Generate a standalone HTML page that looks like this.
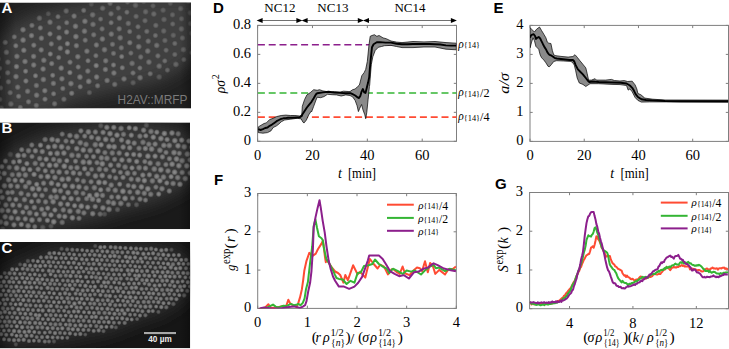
<!DOCTYPE html><html><head><meta charset="utf-8"><style>html,body{margin:0;padding:0;background:#fff;width:729px;height:349px;overflow:hidden}svg{display:block}</style></head><body>
<svg width="729" height="349" viewBox="0 0 729 349">
<defs><filter id="blurBig" x="-20%" y="-20%" width="140%" height="140%"><feGaussianBlur stdDeviation="8"/></filter><radialGradient id="dotG"><stop offset="0" stop-color="#fff" stop-opacity="0.8"/><stop offset="0.5" stop-color="#fff" stop-opacity="0.62"/><stop offset="0.8" stop-color="#fff" stop-opacity="0.25"/><stop offset="1" stop-color="#fff" stop-opacity="0"/></radialGradient><filter id="blurDot" x="-5%" y="-5%" width="110%" height="110%"><feGaussianBlur stdDeviation="0.75"/></filter><linearGradient id="vigL" x1="0" x2="1" y1="0" y2="0"><stop offset="0" stop-color="#000" stop-opacity="0.35"/><stop offset="0.08" stop-color="#000" stop-opacity="0"/><stop offset="0.94" stop-color="#000" stop-opacity="0"/><stop offset="1" stop-color="#000" stop-opacity="0.3"/></linearGradient></defs>
<clipPath id="clipA"><rect x="0" y="2.5" width="191" height="106.0"/></clipPath>
<g clip-path="url(#clipA)">
<rect x="0" y="2.5" width="191" height="106.0" fill="#222222"/>
<path d="M-10.0 41.0 L-6.0 38.6 L-2.0 36.2 L2.0 33.6 L6.0 30.7 L10.0 27.9 L14.0 25.0 L18.0 22.5 L22.0 19.9 L26.0 17.6 L30.0 16.1 L34.0 14.5 L38.0 13.0 L42.0 11.8 L46.0 10.6 L50.0 9.5 L54.0 8.3 L58.0 7.3 L62.0 6.4 L66.0 5.4 L70.0 4.5 L74.0 3.7 L78.0 3.0 L82.0 2.3 L86.0 1.6 L90.0 0.9 L94.0 0.2 L98.0 -1.0 L102.0 -2.3 L106.0 -3.7 L110.0 -5.0 L114.0 -5.0 L118.0 -5.0 L122.0 -5.0 L126.0 -5.0 L130.0 -5.0 L134.0 -5.0 L138.0 -5.0 L142.0 -5.0 L146.0 -5.0 L150.0 -5.0 L154.0 -5.0 L158.0 -5.0 L162.0 -5.0 L166.0 -5.0 L170.0 -5.0 L174.0 -5.0 L178.0 -5.0 L182.0 -5.0 L186.0 -5.0 L190.0 -5.0 L194.0 -5.0 L198.0 -5.0 L201.0 53.0 L197.0 55.6 L193.0 59.1 L189.0 62.7 L185.0 66.2 L181.0 69.2 L177.0 71.7 L173.0 74.2 L169.0 76.5 L165.0 78.5 L161.0 80.5 L157.0 82.2 L153.0 83.2 L149.0 84.2 L145.0 85.2 L141.0 86.2 L137.0 86.9 L133.0 87.7 L129.0 88.4 L125.0 89.2 L121.0 89.9 L117.0 90.7 L113.0 91.4 L109.0 92.3 L105.0 93.3 L101.0 94.4 L97.0 95.5 L93.0 96.5 L89.0 97.5 L85.0 98.5 L81.0 99.5 L77.0 100.8 L73.0 102.2 L69.0 103.8 L65.0 105.2 L61.0 107.4 L57.0 110.2 L53.0 112.9 L49.0 115.0 L45.0 115.0 L41.0 115.0 L37.0 115.0 L33.0 115.0 L29.0 115.0 L25.0 115.0 L21.0 115.0 L17.0 115.0 L13.0 115.0 L9.0 115.0 L5.0 115.0 L1.0 115.0 L-3.0 115.0 L-7.0 115.0Z" fill="#404040" filter="url(#blurBig)"/>
<g fill="url(#dotG)"><circle cx="188.5" cy="1.2" r="3.30" opacity="0.22"/><circle cx="161.4" cy="-1.1" r="3.23" opacity="0.12"/><circle cx="170.3" cy="3.3" r="3.04" opacity="0.20"/><circle cx="180.7" cy="8.6" r="3.24" opacity="0.23"/><circle cx="190.5" cy="12.8" r="3.39" opacity="0.21"/><circle cx="143.7" cy="1.5" r="3.07" opacity="0.22"/><circle cx="153.0" cy="5.9" r="3.03" opacity="0.23"/><circle cx="163.1" cy="10.2" r="3.18" opacity="0.24"/><circle cx="172.5" cy="14.8" r="3.13" opacity="0.26"/><circle cx="181.6" cy="18.8" r="3.10" opacity="0.24"/><circle cx="190.7" cy="23.6" r="3.20" opacity="0.21"/><circle cx="127.5" cy="2.0" r="2.98" opacity="0.29"/><circle cx="135.5" cy="5.3" r="3.35" opacity="0.26"/><circle cx="145.6" cy="11.8" r="3.28" opacity="0.28"/><circle cx="153.8" cy="14.0" r="3.27" opacity="0.30"/><circle cx="164.0" cy="19.5" r="3.29" opacity="0.26"/><circle cx="172.7" cy="24.0" r="3.03" opacity="0.29"/><circle cx="181.5" cy="28.9" r="3.37" opacity="0.27"/><circle cx="191.8" cy="33.3" r="3.21" opacity="0.20"/><circle cx="110.1" cy="3.3" r="3.13" opacity="0.34"/><circle cx="118.2" cy="8.1" r="2.99" opacity="0.31"/><circle cx="126.9" cy="12.2" r="2.98" opacity="0.35"/><circle cx="136.1" cy="16.4" r="3.12" opacity="0.30"/><circle cx="145.0" cy="20.7" r="3.12" opacity="0.30"/><circle cx="155.8" cy="25.4" r="3.16" opacity="0.31"/><circle cx="163.7" cy="31.0" r="3.26" opacity="0.28"/><circle cx="173.3" cy="35.3" r="3.20" opacity="0.26"/><circle cx="182.5" cy="38.0" r="3.16" opacity="0.28"/><circle cx="193.1" cy="43.0" r="3.08" opacity="0.25"/><circle cx="91.3" cy="4.2" r="3.07" opacity="0.19"/><circle cx="102.6" cy="8.3" r="3.32" opacity="0.31"/><circle cx="111.0" cy="13.8" r="3.21" opacity="0.35"/><circle cx="119.4" cy="18.1" r="3.28" opacity="0.39"/><circle cx="128.3" cy="23.4" r="3.27" opacity="0.34"/><circle cx="138.0" cy="26.8" r="3.05" opacity="0.35"/><circle cx="146.8" cy="31.4" r="3.09" opacity="0.34"/><circle cx="155.4" cy="35.5" r="3.00" opacity="0.34"/><circle cx="164.9" cy="40.5" r="3.15" opacity="0.29"/><circle cx="174.8" cy="43.5" r="3.02" opacity="0.32"/><circle cx="183.5" cy="49.6" r="3.34" opacity="0.29"/><circle cx="192.0" cy="52.7" r="3.14" opacity="0.27"/><circle cx="83.7" cy="10.4" r="3.04" opacity="0.38"/><circle cx="92.6" cy="14.8" r="3.38" opacity="0.35"/><circle cx="100.6" cy="19.1" r="2.97" opacity="0.35"/><circle cx="111.1" cy="22.7" r="3.00" opacity="0.40"/><circle cx="119.2" cy="28.8" r="3.23" opacity="0.38"/><circle cx="129.7" cy="31.6" r="3.02" opacity="0.38"/><circle cx="138.7" cy="37.0" r="3.03" opacity="0.34"/><circle cx="148.2" cy="41.2" r="3.23" opacity="0.36"/><circle cx="156.7" cy="45.4" r="3.32" opacity="0.36"/><circle cx="166.1" cy="50.2" r="3.03" opacity="0.31"/><circle cx="174.8" cy="54.5" r="3.03" opacity="0.30"/><circle cx="183.9" cy="59.6" r="2.98" opacity="0.29"/><circle cx="66.2" cy="11.0" r="3.27" opacity="0.32"/><circle cx="74.1" cy="16.1" r="3.18" opacity="0.41"/><circle cx="84.9" cy="21.3" r="3.34" opacity="0.42"/><circle cx="93.0" cy="24.4" r="3.32" opacity="0.37"/><circle cx="102.1" cy="28.9" r="3.12" opacity="0.36"/><circle cx="111.3" cy="34.1" r="3.31" opacity="0.40"/><circle cx="120.2" cy="37.8" r="3.40" opacity="0.38"/><circle cx="129.8" cy="42.7" r="3.16" opacity="0.42"/><circle cx="138.7" cy="46.7" r="3.40" opacity="0.40"/><circle cx="147.7" cy="51.1" r="3.36" opacity="0.39"/><circle cx="157.9" cy="55.9" r="3.09" opacity="0.35"/><circle cx="164.8" cy="60.9" r="2.99" opacity="0.34"/><circle cx="175.9" cy="64.4" r="3.39" opacity="0.30"/><circle cx="48.3" cy="13.8" r="3.03" opacity="0.22"/><circle cx="58.0" cy="16.7" r="2.99" opacity="0.38"/><circle cx="66.7" cy="22.7" r="3.00" opacity="0.39"/><circle cx="75.5" cy="26.3" r="3.33" opacity="0.43"/><circle cx="84.5" cy="31.2" r="3.35" opacity="0.41"/><circle cx="93.7" cy="34.8" r="3.16" opacity="0.38"/><circle cx="102.4" cy="39.0" r="3.32" opacity="0.42"/><circle cx="112.5" cy="44.3" r="3.15" opacity="0.38"/><circle cx="121.3" cy="47.8" r="3.17" opacity="0.37"/><circle cx="130.9" cy="53.1" r="3.02" opacity="0.36"/><circle cx="140.7" cy="57.0" r="3.15" opacity="0.35"/><circle cx="148.9" cy="62.1" r="3.33" opacity="0.37"/><circle cx="159.2" cy="66.2" r="3.35" opacity="0.34"/><circle cx="167.4" cy="70.1" r="3.04" opacity="0.30"/><circle cx="39.4" cy="18.2" r="3.34" opacity="0.31"/><circle cx="50.0" cy="22.2" r="3.25" opacity="0.40"/><circle cx="58.9" cy="27.7" r="2.99" opacity="0.38"/><circle cx="66.6" cy="32.1" r="3.16" opacity="0.45"/><circle cx="75.9" cy="36.6" r="3.39" opacity="0.44"/><circle cx="85.2" cy="40.2" r="3.08" opacity="0.39"/><circle cx="96.4" cy="45.0" r="3.21" opacity="0.42"/><circle cx="104.5" cy="49.7" r="3.38" opacity="0.40"/><circle cx="113.5" cy="53.4" r="3.06" opacity="0.38"/><circle cx="121.7" cy="56.6" r="2.98" opacity="0.44"/><circle cx="132.1" cy="63.4" r="3.35" opacity="0.37"/><circle cx="139.9" cy="68.0" r="2.97" opacity="0.39"/><circle cx="150.2" cy="73.8" r="3.07" opacity="0.36"/><circle cx="159.2" cy="77.0" r="3.37" opacity="0.24"/><circle cx="31.9" cy="25.4" r="3.09" opacity="0.39"/><circle cx="40.3" cy="27.9" r="3.09" opacity="0.42"/><circle cx="50.0" cy="33.9" r="3.08" opacity="0.45"/><circle cx="59.1" cy="37.8" r="3.27" opacity="0.46"/><circle cx="67.4" cy="43.7" r="3.12" opacity="0.48"/><circle cx="76.4" cy="45.7" r="3.22" opacity="0.42"/><circle cx="86.9" cy="51.2" r="3.25" opacity="0.42"/><circle cx="95.9" cy="55.7" r="3.01" opacity="0.40"/><circle cx="105.7" cy="60.8" r="3.24" opacity="0.41"/><circle cx="113.5" cy="65.0" r="3.01" opacity="0.44"/><circle cx="122.3" cy="67.8" r="3.03" opacity="0.43"/><circle cx="133.0" cy="73.0" r="3.09" opacity="0.38"/><circle cx="140.1" cy="77.7" r="3.38" opacity="0.39"/><circle cx="23.0" cy="29.7" r="3.34" opacity="0.42"/><circle cx="31.5" cy="35.6" r="3.23" opacity="0.44"/><circle cx="41.4" cy="38.2" r="3.24" opacity="0.43"/><circle cx="51.3" cy="43.9" r="3.11" opacity="0.42"/><circle cx="60.3" cy="48.2" r="3.22" opacity="0.42"/><circle cx="67.4" cy="51.9" r="3.25" opacity="0.48"/><circle cx="77.8" cy="56.7" r="3.29" opacity="0.42"/><circle cx="88.0" cy="60.8" r="2.98" opacity="0.43"/><circle cx="96.2" cy="65.6" r="3.16" opacity="0.47"/><circle cx="105.4" cy="69.5" r="3.21" opacity="0.43"/><circle cx="113.9" cy="73.0" r="3.23" opacity="0.42"/><circle cx="124.0" cy="78.9" r="3.27" opacity="0.40"/><circle cx="133.1" cy="82.8" r="3.21" opacity="0.26"/><circle cx="14.3" cy="36.9" r="3.02" opacity="0.38"/><circle cx="23.1" cy="40.1" r="3.36" opacity="0.44"/><circle cx="33.8" cy="45.2" r="3.10" opacity="0.43"/><circle cx="41.2" cy="49.9" r="3.20" opacity="0.43"/><circle cx="50.3" cy="54.0" r="3.04" opacity="0.47"/><circle cx="58.7" cy="57.5" r="3.00" opacity="0.42"/><circle cx="70.0" cy="62.2" r="3.09" opacity="0.42"/><circle cx="78.2" cy="67.0" r="3.05" opacity="0.41"/><circle cx="87.8" cy="71.1" r="3.20" opacity="0.41"/><circle cx="96.6" cy="77.0" r="3.25" opacity="0.44"/><circle cx="107.1" cy="80.5" r="3.24" opacity="0.41"/><circle cx="114.7" cy="84.4" r="3.24" opacity="0.37"/><circle cx="5.2" cy="42.4" r="3.17" opacity="0.39"/><circle cx="15.8" cy="45.8" r="3.06" opacity="0.42"/><circle cx="23.8" cy="50.3" r="3.23" opacity="0.45"/><circle cx="33.6" cy="56.4" r="3.24" opacity="0.43"/><circle cx="43.8" cy="60.3" r="3.31" opacity="0.42"/><circle cx="51.7" cy="63.6" r="3.13" opacity="0.44"/><circle cx="61.2" cy="68.1" r="3.29" opacity="0.46"/><circle cx="69.9" cy="72.6" r="3.05" opacity="0.48"/><circle cx="79.9" cy="77.1" r="3.40" opacity="0.44"/><circle cx="88.7" cy="81.4" r="3.41" opacity="0.44"/><circle cx="97.6" cy="85.8" r="3.14" opacity="0.38"/><circle cx="-2.2" cy="46.8" r="2.97" opacity="0.38"/><circle cx="6.4" cy="52.3" r="3.29" opacity="0.40"/><circle cx="16.9" cy="56.4" r="3.31" opacity="0.40"/><circle cx="25.0" cy="61.5" r="3.30" opacity="0.43"/><circle cx="33.7" cy="65.0" r="3.25" opacity="0.43"/><circle cx="43.1" cy="69.0" r="3.26" opacity="0.44"/><circle cx="52.7" cy="75.3" r="3.00" opacity="0.45"/><circle cx="61.9" cy="78.8" r="3.28" opacity="0.43"/><circle cx="70.9" cy="83.6" r="3.40" opacity="0.43"/><circle cx="80.2" cy="86.8" r="3.04" opacity="0.42"/><circle cx="89.4" cy="92.6" r="3.12" opacity="0.27"/><circle cx="-2.0" cy="59.0" r="3.36" opacity="0.35"/><circle cx="7.8" cy="62.2" r="3.28" opacity="0.37"/><circle cx="16.5" cy="66.6" r="3.20" opacity="0.45"/><circle cx="25.6" cy="71.2" r="3.00" opacity="0.45"/><circle cx="35.5" cy="75.8" r="2.97" opacity="0.46"/><circle cx="43.4" cy="79.5" r="3.37" opacity="0.42"/><circle cx="53.4" cy="83.4" r="3.25" opacity="0.42"/><circle cx="62.8" cy="88.5" r="3.04" opacity="0.41"/><circle cx="71.7" cy="93.3" r="3.16" opacity="0.44"/><circle cx="-0.3" cy="68.3" r="3.02" opacity="0.38"/><circle cx="7.7" cy="72.8" r="3.17" opacity="0.39"/><circle cx="16.0" cy="76.6" r="3.32" opacity="0.41"/><circle cx="25.9" cy="81.0" r="3.11" opacity="0.44"/><circle cx="36.4" cy="85.5" r="3.23" opacity="0.39"/><circle cx="44.8" cy="90.7" r="3.21" opacity="0.44"/><circle cx="53.6" cy="93.8" r="2.99" opacity="0.42"/><circle cx="63.9" cy="99.2" r="3.18" opacity="0.35"/><circle cx="-1.6" cy="77.3" r="3.04" opacity="0.35"/><circle cx="8.4" cy="81.8" r="3.16" opacity="0.37"/><circle cx="17.7" cy="87.2" r="3.23" opacity="0.37"/><circle cx="27.6" cy="91.3" r="3.24" opacity="0.39"/><circle cx="36.6" cy="95.2" r="3.32" opacity="0.41"/><circle cx="45.0" cy="99.2" r="3.07" opacity="0.42"/><circle cx="54.6" cy="103.8" r="3.21" opacity="0.37"/><circle cx="0.6" cy="87.9" r="3.08" opacity="0.37"/><circle cx="10.1" cy="92.7" r="3.16" opacity="0.38"/><circle cx="18.6" cy="96.3" r="3.08" opacity="0.39"/><circle cx="28.5" cy="101.8" r="3.08" opacity="0.39"/><circle cx="36.3" cy="105.4" r="3.16" opacity="0.35"/><circle cx="45.7" cy="110.8" r="3.22" opacity="0.23"/><circle cx="-0.3" cy="99.4" r="3.21" opacity="0.33"/><circle cx="10.8" cy="104.0" r="3.39" opacity="0.35"/><circle cx="20.3" cy="107.4" r="3.01" opacity="0.37"/><circle cx="29.3" cy="110.5" r="2.97" opacity="0.21"/><circle cx="1.2" cy="108.1" r="3.33" opacity="0.29"/></g>
<rect x="0" y="2.5" width="191" height="106.0" fill="url(#vigL)"/>
<text x="117.6" y="103.7" textLength="69.8" lengthAdjust="spacingAndGlyphs" style="font-family:'Liberation Sans',sans-serif;font-size:12px" fill="#7a7a7a">H2AV::MRFP</text>
</g>
<clipPath id="clipB"><rect x="0" y="122.5" width="190" height="106.69999999999999"/></clipPath>
<g clip-path="url(#clipB)">
<rect x="0" y="122.5" width="190" height="106.69999999999999" fill="#1a1a1a"/>
<path d="M-10.0 162.0 L-6.0 160.0 L-2.0 158.0 L2.0 156.1 L6.0 154.2 L10.0 151.6 L14.0 148.9 L18.0 146.5 L22.0 144.5 L26.0 142.5 L30.0 140.5 L34.0 138.7 L38.0 137.1 L42.0 135.4 L46.0 133.8 L50.0 132.4 L54.0 131.2 L58.0 130.0 L62.0 128.8 L66.0 127.8 L70.0 127.0 L74.0 126.2 L78.0 125.4 L82.0 124.7 L86.0 124.2 L90.0 123.6 L94.0 123.1 L98.0 122.6 L102.0 122.3 L106.0 122.0 L110.0 121.7 L114.0 121.4 L118.0 121.3 L122.0 121.2 L126.0 121.1 L130.0 121.1 L134.0 121.4 L138.0 121.6 L142.0 121.9 L146.0 122.2 L150.0 122.8 L154.0 123.2 L158.0 123.8 L162.0 124.5 L166.0 125.5 L170.0 126.5 L174.0 127.5 L178.0 128.8 L182.0 130.4 L186.0 132.0 L190.0 134.0 L194.0 136.0 L198.0 138.0 L200.0 175.0 L196.0 178.4 L192.0 181.9 L188.0 185.3 L184.0 188.2 L180.0 190.6 L176.0 193.0 L172.0 195.0 L168.0 197.0 L164.0 199.0 L160.0 201.0 L156.0 202.2 L152.0 203.5 L148.0 204.8 L144.0 206.0 L140.0 207.0 L136.0 208.0 L132.0 209.0 L128.0 210.0 L124.0 211.2 L120.0 212.5 L116.0 213.8 L112.0 215.0 L108.0 216.2 L104.0 217.5 L100.0 218.8 L96.0 220.0 L92.0 220.9 L88.0 221.8 L84.0 222.6 L80.0 223.5 L76.0 224.4 L72.0 225.2 L68.0 226.1 L64.0 227.0 L60.0 227.8 L56.0 228.5 L52.0 229.2 L48.0 230.0 L44.0 230.5 L40.0 231.0 L36.0 231.5 L32.0 232.0 L28.0 232.2 L24.0 232.5 L20.0 232.8 L16.0 233.0 L12.0 232.8 L8.0 232.5 L4.0 232.2 L0.0 232.0 L-4.0 232.0 L-8.0 232.0Z" fill="#383838" filter="url(#blurBig)"/>
<g fill="url(#dotG)"><circle cx="146.4" cy="125.3" r="3.21" opacity="0.26"/><circle cx="100.8" cy="125.7" r="3.20" opacity="0.27"/><circle cx="106.8" cy="127.4" r="3.28" opacity="0.51"/><circle cx="113.8" cy="127.4" r="3.19" opacity="0.52"/><circle cx="121.1" cy="128.4" r="3.36" opacity="0.46"/><circle cx="129.2" cy="127.8" r="3.05" opacity="0.54"/><circle cx="135.4" cy="128.6" r="3.23" opacity="0.52"/><circle cx="143.6" cy="130.2" r="3.23" opacity="0.51"/><circle cx="151.0" cy="131.5" r="3.38" opacity="0.46"/><circle cx="156.8" cy="132.2" r="3.06" opacity="0.53"/><circle cx="164.4" cy="133.5" r="3.37" opacity="0.55"/><circle cx="172.0" cy="133.0" r="3.33" opacity="0.53"/><circle cx="178.2" cy="133.8" r="3.25" opacity="0.41"/><circle cx="80.9" cy="130.9" r="3.13" opacity="0.50"/><circle cx="88.4" cy="131.9" r="3.42" opacity="0.50"/><circle cx="95.4" cy="132.0" r="3.18" opacity="0.49"/><circle cx="103.1" cy="132.4" r="3.19" opacity="0.51"/><circle cx="110.0" cy="133.6" r="3.46" opacity="0.53"/><circle cx="117.0" cy="135.1" r="3.32" opacity="0.54"/><circle cx="123.5" cy="134.3" r="3.23" opacity="0.45"/><circle cx="131.3" cy="135.2" r="3.15" opacity="0.52"/><circle cx="139.9" cy="136.2" r="3.22" opacity="0.46"/><circle cx="145.8" cy="135.8" r="3.03" opacity="0.52"/><circle cx="153.3" cy="137.2" r="3.26" opacity="0.54"/><circle cx="160.9" cy="138.5" r="3.42" opacity="0.53"/><circle cx="167.1" cy="139.5" r="3.08" opacity="0.51"/><circle cx="174.8" cy="140.6" r="3.33" opacity="0.52"/><circle cx="181.7" cy="140.1" r="3.22" opacity="0.52"/><circle cx="188.9" cy="141.0" r="3.12" opacity="0.54"/><circle cx="62.2" cy="134.1" r="3.13" opacity="0.45"/><circle cx="69.9" cy="135.5" r="3.32" opacity="0.48"/><circle cx="76.6" cy="136.4" r="3.45" opacity="0.47"/><circle cx="84.7" cy="136.1" r="3.05" opacity="0.49"/><circle cx="91.5" cy="137.2" r="3.24" opacity="0.49"/><circle cx="98.2" cy="138.6" r="3.46" opacity="0.51"/><circle cx="105.7" cy="139.4" r="3.39" opacity="0.52"/><circle cx="112.5" cy="139.9" r="3.16" opacity="0.50"/><circle cx="121.5" cy="140.0" r="3.21" opacity="0.50"/><circle cx="128.1" cy="142.0" r="3.30" opacity="0.53"/><circle cx="134.2" cy="143.1" r="3.22" opacity="0.48"/><circle cx="143.0" cy="142.3" r="3.34" opacity="0.45"/><circle cx="148.8" cy="144.2" r="3.28" opacity="0.46"/><circle cx="155.1" cy="144.1" r="3.20" opacity="0.50"/><circle cx="163.8" cy="145.4" r="3.34" opacity="0.50"/><circle cx="169.3" cy="145.5" r="3.39" opacity="0.47"/><circle cx="178.0" cy="145.8" r="3.35" opacity="0.51"/><circle cx="184.3" cy="146.8" r="3.43" opacity="0.46"/><circle cx="191.8" cy="147.3" r="3.12" opacity="0.47"/><circle cx="45.1" cy="139.5" r="3.28" opacity="0.42"/><circle cx="52.1" cy="139.5" r="3.41" opacity="0.52"/><circle cx="57.6" cy="140.5" r="3.30" opacity="0.51"/><circle cx="66.0" cy="141.0" r="3.12" opacity="0.45"/><circle cx="72.3" cy="141.7" r="3.04" opacity="0.52"/><circle cx="80.3" cy="142.7" r="3.41" opacity="0.47"/><circle cx="86.0" cy="144.4" r="3.39" opacity="0.45"/><circle cx="95.3" cy="144.7" r="3.45" opacity="0.47"/><circle cx="101.1" cy="144.8" r="3.19" opacity="0.55"/><circle cx="109.0" cy="146.5" r="3.41" opacity="0.53"/><circle cx="114.2" cy="146.8" r="3.41" opacity="0.52"/><circle cx="123.1" cy="147.1" r="3.26" opacity="0.50"/><circle cx="129.7" cy="147.8" r="3.26" opacity="0.51"/><circle cx="139.0" cy="148.3" r="3.21" opacity="0.45"/><circle cx="145.4" cy="148.5" r="3.23" opacity="0.53"/><circle cx="151.6" cy="149.0" r="3.45" opacity="0.51"/><circle cx="159.9" cy="150.3" r="3.46" opacity="0.48"/><circle cx="166.0" cy="152.5" r="3.07" opacity="0.48"/><circle cx="174.0" cy="152.6" r="3.45" opacity="0.50"/><circle cx="179.4" cy="153.3" r="3.05" opacity="0.47"/><circle cx="187.4" cy="154.1" r="3.43" opacity="0.50"/><circle cx="31.8" cy="145.0" r="3.13" opacity="0.46"/><circle cx="40.5" cy="145.2" r="3.14" opacity="0.54"/><circle cx="48.3" cy="147.0" r="3.10" opacity="0.53"/><circle cx="54.7" cy="146.3" r="3.37" opacity="0.50"/><circle cx="61.6" cy="146.8" r="3.46" opacity="0.51"/><circle cx="68.1" cy="147.9" r="3.03" opacity="0.45"/><circle cx="76.7" cy="148.6" r="3.30" opacity="0.51"/><circle cx="83.3" cy="150.0" r="3.38" opacity="0.52"/><circle cx="90.2" cy="150.5" r="3.44" opacity="0.47"/><circle cx="97.9" cy="151.1" r="3.40" opacity="0.52"/><circle cx="104.9" cy="152.6" r="3.13" opacity="0.45"/><circle cx="112.3" cy="153.0" r="3.33" opacity="0.46"/><circle cx="119.2" cy="153.1" r="3.24" opacity="0.48"/><circle cx="126.9" cy="154.3" r="3.05" opacity="0.55"/><circle cx="133.7" cy="154.5" r="3.14" opacity="0.53"/><circle cx="139.7" cy="155.1" r="3.11" opacity="0.54"/><circle cx="147.9" cy="156.2" r="3.38" opacity="0.54"/><circle cx="155.1" cy="156.2" r="3.17" opacity="0.54"/><circle cx="162.4" cy="156.9" r="3.19" opacity="0.50"/><circle cx="169.4" cy="158.7" r="3.16" opacity="0.49"/><circle cx="176.5" cy="159.0" r="3.39" opacity="0.52"/><circle cx="182.1" cy="160.7" r="3.43" opacity="0.45"/><circle cx="190.1" cy="159.9" r="3.29" opacity="0.47"/><circle cx="21.7" cy="149.7" r="3.09" opacity="0.47"/><circle cx="28.5" cy="150.7" r="3.38" opacity="0.45"/><circle cx="35.4" cy="150.8" r="3.23" opacity="0.52"/><circle cx="42.3" cy="151.6" r="3.24" opacity="0.49"/><circle cx="50.4" cy="153.4" r="3.13" opacity="0.54"/><circle cx="57.2" cy="153.4" r="3.47" opacity="0.51"/><circle cx="63.9" cy="153.1" r="3.31" opacity="0.51"/><circle cx="71.9" cy="155.3" r="3.47" opacity="0.46"/><circle cx="78.4" cy="155.6" r="3.30" opacity="0.47"/><circle cx="86.5" cy="156.3" r="3.07" opacity="0.47"/><circle cx="93.5" cy="156.7" r="3.11" opacity="0.50"/><circle cx="101.4" cy="157.9" r="3.34" opacity="0.48"/><circle cx="106.9" cy="158.3" r="3.45" opacity="0.46"/><circle cx="114.6" cy="159.3" r="3.14" opacity="0.47"/><circle cx="121.9" cy="160.0" r="3.25" opacity="0.53"/><circle cx="129.2" cy="160.4" r="3.25" opacity="0.50"/><circle cx="136.7" cy="161.5" r="3.17" opacity="0.54"/><circle cx="144.8" cy="161.6" r="3.05" opacity="0.48"/><circle cx="150.1" cy="163.1" r="3.32" opacity="0.50"/><circle cx="158.1" cy="163.8" r="3.30" opacity="0.45"/><circle cx="165.9" cy="164.6" r="3.08" opacity="0.48"/><circle cx="172.1" cy="164.2" r="3.37" opacity="0.53"/><circle cx="178.9" cy="165.7" r="3.40" opacity="0.52"/><circle cx="186.8" cy="165.9" r="3.37" opacity="0.53"/><circle cx="193.8" cy="167.5" r="3.34" opacity="0.51"/><circle cx="10.3" cy="154.4" r="3.38" opacity="0.23"/><circle cx="18.1" cy="155.5" r="3.40" opacity="0.54"/><circle cx="24.0" cy="155.4" r="3.16" opacity="0.48"/><circle cx="32.0" cy="156.5" r="3.03" opacity="0.46"/><circle cx="39.7" cy="158.5" r="3.30" opacity="0.47"/><circle cx="46.2" cy="159.2" r="3.17" opacity="0.55"/><circle cx="53.6" cy="159.4" r="3.16" opacity="0.47"/><circle cx="59.4" cy="160.7" r="3.38" opacity="0.47"/><circle cx="66.8" cy="160.7" r="3.03" opacity="0.55"/><circle cx="75.5" cy="161.2" r="3.05" opacity="0.50"/><circle cx="83.3" cy="162.1" r="3.47" opacity="0.51"/><circle cx="89.4" cy="162.4" r="3.42" opacity="0.53"/><circle cx="97.0" cy="162.7" r="3.14" opacity="0.48"/><circle cx="102.3" cy="163.8" r="3.46" opacity="0.53"/><circle cx="110.6" cy="165.1" r="3.23" opacity="0.52"/><circle cx="118.6" cy="165.3" r="3.28" opacity="0.48"/><circle cx="125.1" cy="167.1" r="3.44" opacity="0.46"/><circle cx="132.0" cy="167.9" r="3.05" opacity="0.54"/><circle cx="139.1" cy="167.7" r="3.46" opacity="0.46"/><circle cx="145.5" cy="168.2" r="3.25" opacity="0.51"/><circle cx="154.3" cy="169.0" r="3.47" opacity="0.48"/><circle cx="160.8" cy="169.8" r="3.47" opacity="0.53"/><circle cx="168.0" cy="170.9" r="3.26" opacity="0.47"/><circle cx="174.6" cy="172.2" r="3.36" opacity="0.54"/><circle cx="182.2" cy="172.5" r="3.21" opacity="0.45"/><circle cx="190.2" cy="173.0" r="3.29" opacity="0.51"/><circle cx="5.4" cy="161.1" r="3.03" opacity="0.51"/><circle cx="13.5" cy="162.0" r="3.05" opacity="0.50"/><circle cx="19.5" cy="161.3" r="3.03" opacity="0.53"/><circle cx="26.9" cy="163.6" r="3.08" opacity="0.54"/><circle cx="35.2" cy="163.4" r="3.28" opacity="0.45"/><circle cx="42.2" cy="164.6" r="3.21" opacity="0.47"/><circle cx="49.6" cy="165.3" r="3.40" opacity="0.55"/><circle cx="56.0" cy="165.2" r="3.26" opacity="0.52"/><circle cx="64.3" cy="166.2" r="3.43" opacity="0.54"/><circle cx="70.8" cy="167.6" r="3.23" opacity="0.47"/><circle cx="77.0" cy="167.7" r="3.31" opacity="0.48"/><circle cx="84.6" cy="168.7" r="3.19" opacity="0.54"/><circle cx="91.6" cy="169.3" r="3.04" opacity="0.45"/><circle cx="99.4" cy="169.2" r="3.41" opacity="0.47"/><circle cx="105.9" cy="169.6" r="3.17" opacity="0.46"/><circle cx="113.8" cy="170.8" r="3.07" opacity="0.48"/><circle cx="120.4" cy="172.4" r="3.03" opacity="0.48"/><circle cx="127.5" cy="173.2" r="3.47" opacity="0.49"/><circle cx="134.5" cy="173.3" r="3.05" opacity="0.47"/><circle cx="142.8" cy="175.1" r="3.21" opacity="0.52"/><circle cx="149.4" cy="174.8" r="3.10" opacity="0.51"/><circle cx="156.7" cy="176.4" r="3.40" opacity="0.51"/><circle cx="163.5" cy="177.1" r="3.37" opacity="0.48"/><circle cx="171.1" cy="176.7" r="3.05" opacity="0.54"/><circle cx="177.7" cy="177.6" r="3.33" opacity="0.46"/><circle cx="185.3" cy="178.6" r="3.33" opacity="0.46"/><circle cx="1.8" cy="166.7" r="3.09" opacity="0.53"/><circle cx="9.2" cy="167.4" r="3.14" opacity="0.45"/><circle cx="16.7" cy="168.0" r="3.45" opacity="0.49"/><circle cx="23.4" cy="169.0" r="3.26" opacity="0.52"/><circle cx="29.9" cy="169.6" r="3.06" opacity="0.53"/><circle cx="38.1" cy="169.2" r="3.19" opacity="0.47"/><circle cx="45.3" cy="170.8" r="3.07" opacity="0.51"/><circle cx="52.5" cy="171.6" r="3.15" opacity="0.46"/><circle cx="59.1" cy="172.1" r="3.38" opacity="0.50"/><circle cx="66.7" cy="172.3" r="3.03" opacity="0.48"/><circle cx="73.4" cy="172.9" r="3.31" opacity="0.51"/><circle cx="79.8" cy="173.6" r="3.11" opacity="0.48"/><circle cx="88.0" cy="173.8" r="3.32" opacity="0.48"/><circle cx="95.5" cy="176.0" r="3.44" opacity="0.50"/><circle cx="102.2" cy="175.5" r="3.41" opacity="0.51"/><circle cx="109.7" cy="176.7" r="3.08" opacity="0.47"/><circle cx="115.7" cy="177.9" r="3.12" opacity="0.47"/><circle cx="123.0" cy="177.4" r="3.12" opacity="0.51"/><circle cx="131.2" cy="179.1" r="3.20" opacity="0.48"/><circle cx="138.0" cy="179.6" r="3.45" opacity="0.49"/><circle cx="144.4" cy="180.6" r="3.28" opacity="0.54"/><circle cx="152.4" cy="180.9" r="3.38" opacity="0.46"/><circle cx="159.9" cy="180.8" r="3.24" opacity="0.55"/><circle cx="166.8" cy="183.0" r="3.05" opacity="0.51"/><circle cx="173.1" cy="183.5" r="3.36" opacity="0.47"/><circle cx="180.0" cy="184.3" r="3.34" opacity="0.50"/><circle cx="-1.4" cy="172.4" r="3.05" opacity="0.52"/><circle cx="4.2" cy="173.4" r="3.25" opacity="0.53"/><circle cx="12.2" cy="174.7" r="3.18" opacity="0.46"/><circle cx="18.9" cy="174.7" r="3.42" opacity="0.47"/><circle cx="25.4" cy="175.0" r="3.43" opacity="0.47"/><circle cx="34.1" cy="174.4" r="3.17" opacity="0.54"/><circle cx="40.9" cy="176.5" r="3.12" opacity="0.48"/><circle cx="47.7" cy="176.6" r="3.44" opacity="0.55"/><circle cx="54.9" cy="177.5" r="3.38" opacity="0.49"/><circle cx="62.2" cy="179.3" r="3.42" opacity="0.52"/><circle cx="68.4" cy="179.0" r="3.46" opacity="0.53"/><circle cx="77.2" cy="179.8" r="3.10" opacity="0.50"/><circle cx="83.5" cy="181.2" r="3.27" opacity="0.45"/><circle cx="91.1" cy="181.8" r="3.13" opacity="0.48"/><circle cx="98.9" cy="182.4" r="3.46" opacity="0.55"/><circle cx="104.8" cy="182.6" r="3.13" opacity="0.53"/><circle cx="111.2" cy="185.1" r="3.32" opacity="0.48"/><circle cx="119.7" cy="184.2" r="3.04" opacity="0.52"/><circle cx="128.2" cy="185.5" r="3.05" opacity="0.48"/><circle cx="133.8" cy="186.5" r="3.29" opacity="0.52"/><circle cx="141.4" cy="186.9" r="3.33" opacity="0.53"/><circle cx="147.8" cy="188.8" r="3.43" opacity="0.54"/><circle cx="155.9" cy="187.1" r="3.07" opacity="0.46"/><circle cx="162.0" cy="188.7" r="3.36" opacity="0.49"/><circle cx="169.3" cy="191.0" r="3.19" opacity="0.49"/><circle cx="-0.4" cy="178.0" r="3.06" opacity="0.53"/><circle cx="8.6" cy="179.8" r="3.35" opacity="0.50"/><circle cx="15.1" cy="180.3" r="3.14" opacity="0.51"/><circle cx="21.9" cy="180.7" r="3.18" opacity="0.54"/><circle cx="29.0" cy="182.6" r="3.41" opacity="0.47"/><circle cx="36.7" cy="184.3" r="3.09" opacity="0.55"/><circle cx="43.6" cy="183.2" r="3.19" opacity="0.49"/><circle cx="51.5" cy="183.2" r="3.38" opacity="0.53"/><circle cx="58.1" cy="184.6" r="3.07" opacity="0.54"/><circle cx="64.9" cy="185.8" r="3.38" opacity="0.54"/><circle cx="72.5" cy="186.4" r="3.45" opacity="0.53"/><circle cx="78.9" cy="186.9" r="3.37" opacity="0.53"/><circle cx="86.2" cy="188.0" r="3.31" opacity="0.47"/><circle cx="94.4" cy="187.7" r="3.44" opacity="0.47"/><circle cx="100.7" cy="189.8" r="3.09" opacity="0.55"/><circle cx="108.2" cy="189.5" r="3.25" opacity="0.46"/><circle cx="115.3" cy="190.3" r="3.38" opacity="0.47"/><circle cx="122.9" cy="191.3" r="3.44" opacity="0.55"/><circle cx="129.8" cy="192.0" r="3.05" opacity="0.47"/><circle cx="137.7" cy="192.3" r="3.42" opacity="0.50"/><circle cx="144.3" cy="193.3" r="3.25" opacity="0.48"/><circle cx="150.7" cy="194.3" r="3.34" opacity="0.46"/><circle cx="158.7" cy="194.1" r="3.09" opacity="0.53"/><circle cx="-3.1" cy="184.9" r="3.39" opacity="0.53"/><circle cx="4.4" cy="185.8" r="3.36" opacity="0.51"/><circle cx="10.6" cy="185.8" r="3.35" opacity="0.54"/><circle cx="17.5" cy="186.4" r="3.24" opacity="0.47"/><circle cx="25.5" cy="186.6" r="3.31" opacity="0.46"/><circle cx="32.6" cy="188.7" r="3.45" opacity="0.54"/><circle cx="38.8" cy="189.0" r="3.34" opacity="0.54"/><circle cx="45.6" cy="189.7" r="3.04" opacity="0.46"/><circle cx="54.6" cy="190.5" r="3.43" opacity="0.54"/><circle cx="60.5" cy="190.9" r="3.30" opacity="0.49"/><circle cx="68.0" cy="192.6" r="3.38" opacity="0.52"/><circle cx="76.2" cy="192.6" r="3.43" opacity="0.46"/><circle cx="83.1" cy="193.4" r="3.08" opacity="0.45"/><circle cx="89.6" cy="195.5" r="3.17" opacity="0.53"/><circle cx="96.7" cy="194.9" r="3.42" opacity="0.54"/><circle cx="102.5" cy="195.4" r="3.27" opacity="0.47"/><circle cx="111.6" cy="197.0" r="3.05" opacity="0.47"/><circle cx="118.2" cy="197.1" r="3.21" opacity="0.51"/><circle cx="125.1" cy="198.4" r="3.47" opacity="0.54"/><circle cx="132.5" cy="198.1" r="3.05" opacity="0.46"/><circle cx="140.0" cy="199.1" r="3.22" opacity="0.48"/><circle cx="145.5" cy="200.1" r="3.04" opacity="0.47"/><circle cx="0.4" cy="191.4" r="3.13" opacity="0.53"/><circle cx="7.7" cy="192.7" r="3.14" opacity="0.53"/><circle cx="12.2" cy="192.3" r="3.09" opacity="0.49"/><circle cx="21.1" cy="193.4" r="3.33" opacity="0.47"/><circle cx="28.2" cy="194.7" r="3.06" opacity="0.46"/><circle cx="35.1" cy="195.1" r="3.25" opacity="0.52"/><circle cx="42.0" cy="195.5" r="3.22" opacity="0.46"/><circle cx="50.9" cy="197.1" r="3.31" opacity="0.48"/><circle cx="56.3" cy="197.1" r="3.43" opacity="0.46"/><circle cx="63.8" cy="197.8" r="3.16" opacity="0.52"/><circle cx="71.1" cy="198.6" r="3.33" opacity="0.54"/><circle cx="78.2" cy="199.2" r="3.16" opacity="0.47"/><circle cx="86.6" cy="198.7" r="3.11" opacity="0.46"/><circle cx="92.5" cy="199.2" r="3.44" opacity="0.49"/><circle cx="98.6" cy="200.4" r="3.19" opacity="0.53"/><circle cx="108.3" cy="202.1" r="3.28" opacity="0.46"/><circle cx="113.5" cy="203.2" r="3.41" opacity="0.50"/><circle cx="120.8" cy="203.4" r="3.48" opacity="0.47"/><circle cx="128.4" cy="204.7" r="3.11" opacity="0.40"/><circle cx="136.5" cy="204.8" r="3.10" opacity="0.28"/><circle cx="2.1" cy="197.5" r="3.26" opacity="0.52"/><circle cx="9.3" cy="199.0" r="3.19" opacity="0.52"/><circle cx="15.9" cy="199.4" r="3.03" opacity="0.52"/><circle cx="24.5" cy="199.6" r="3.31" opacity="0.47"/><circle cx="31.6" cy="201.6" r="3.05" opacity="0.54"/><circle cx="38.5" cy="201.1" r="3.18" opacity="0.47"/><circle cx="45.6" cy="201.9" r="3.19" opacity="0.47"/><circle cx="53.1" cy="201.7" r="3.39" opacity="0.51"/><circle cx="60.6" cy="203.9" r="3.35" opacity="0.51"/><circle cx="67.7" cy="204.3" r="3.08" opacity="0.54"/><circle cx="74.6" cy="205.7" r="3.05" opacity="0.54"/><circle cx="81.3" cy="206.2" r="3.43" opacity="0.54"/><circle cx="87.7" cy="207.2" r="3.13" opacity="0.54"/><circle cx="95.2" cy="206.6" r="3.14" opacity="0.49"/><circle cx="102.9" cy="207.9" r="3.38" opacity="0.51"/><circle cx="109.0" cy="209.4" r="3.45" opacity="0.50"/><circle cx="117.5" cy="209.6" r="3.18" opacity="0.30"/><circle cx="-1.8" cy="202.8" r="3.30" opacity="0.48"/><circle cx="5.8" cy="205.0" r="3.29" opacity="0.50"/><circle cx="12.7" cy="205.0" r="3.22" opacity="0.53"/><circle cx="19.6" cy="205.4" r="3.06" opacity="0.47"/><circle cx="26.4" cy="207.4" r="3.24" opacity="0.47"/><circle cx="34.3" cy="207.5" r="3.25" opacity="0.47"/><circle cx="41.7" cy="209.2" r="3.12" opacity="0.49"/><circle cx="47.7" cy="208.2" r="3.08" opacity="0.52"/><circle cx="54.9" cy="210.0" r="3.09" opacity="0.53"/><circle cx="63.3" cy="209.9" r="3.24" opacity="0.47"/><circle cx="69.9" cy="211.2" r="3.38" opacity="0.49"/><circle cx="78.3" cy="211.4" r="3.34" opacity="0.47"/><circle cx="83.9" cy="212.9" r="3.22" opacity="0.46"/><circle cx="92.7" cy="213.7" r="3.31" opacity="0.51"/><circle cx="100.1" cy="214.1" r="3.19" opacity="0.38"/><circle cx="104.6" cy="214.2" r="3.05" opacity="0.24"/><circle cx="1.9" cy="210.5" r="3.44" opacity="0.51"/><circle cx="8.1" cy="210.7" r="3.11" opacity="0.54"/><circle cx="15.0" cy="211.7" r="3.25" opacity="0.54"/><circle cx="22.9" cy="212.2" r="3.03" opacity="0.51"/><circle cx="29.7" cy="212.9" r="3.46" opacity="0.46"/><circle cx="36.4" cy="214.1" r="3.03" opacity="0.54"/><circle cx="44.3" cy="214.2" r="3.47" opacity="0.50"/><circle cx="51.0" cy="215.0" r="3.20" opacity="0.54"/><circle cx="59.2" cy="216.1" r="3.21" opacity="0.50"/><circle cx="64.8" cy="216.6" r="3.17" opacity="0.53"/><circle cx="72.4" cy="217.8" r="3.37" opacity="0.54"/><circle cx="79.0" cy="218.3" r="3.15" opacity="0.46"/><circle cx="5.1" cy="216.8" r="3.30" opacity="0.52"/><circle cx="11.2" cy="217.9" r="3.33" opacity="0.50"/><circle cx="18.0" cy="218.6" r="3.19" opacity="0.48"/><circle cx="25.3" cy="218.9" r="3.16" opacity="0.50"/><circle cx="32.0" cy="220.1" r="3.43" opacity="0.52"/><circle cx="39.5" cy="219.7" r="3.13" opacity="0.48"/><circle cx="47.4" cy="220.4" r="3.15" opacity="0.54"/><circle cx="53.7" cy="221.8" r="3.44" opacity="0.55"/><circle cx="62.2" cy="222.4" r="3.30" opacity="0.42"/><circle cx="0.5" cy="222.0" r="3.35" opacity="0.46"/><circle cx="6.1" cy="223.4" r="3.36" opacity="0.52"/><circle cx="13.9" cy="224.9" r="3.18" opacity="0.50"/><circle cx="21.3" cy="224.5" r="3.13" opacity="0.53"/><circle cx="28.1" cy="225.9" r="3.42" opacity="0.47"/><circle cx="34.8" cy="226.7" r="3.05" opacity="0.45"/><circle cx="42.7" cy="227.5" r="3.39" opacity="0.28"/><circle cx="51.0" cy="226.3" r="3.12" opacity="0.25"/><circle cx="-3.9" cy="228.1" r="3.44" opacity="0.35"/><circle cx="2.6" cy="229.1" r="3.31" opacity="0.25"/></g>
<rect x="0" y="122.5" width="190" height="106.69999999999999" fill="url(#vigL)"/>

</g>
<clipPath id="clipC"><rect x="0" y="242" width="190.2" height="106.30000000000001"/></clipPath>
<g clip-path="url(#clipC)">
<rect x="0" y="242" width="190.2" height="106.30000000000001" fill="#161616"/>
<path d="M-10.0 277.0 L-6.0 275.0 L-2.0 273.0 L2.0 270.7 L6.0 268.2 L10.0 265.9 L14.0 263.6 L18.0 261.8 L22.0 260.2 L26.0 258.6 L30.0 257.0 L34.0 255.0 L38.0 253.0 L42.0 251.0 L46.0 249.7 L50.0 248.3 L54.0 247.0 L58.0 246.2 L62.0 245.5 L66.0 245.5 L70.0 245.5 L74.0 245.4 L78.0 244.9 L82.0 244.4 L86.0 244.0 L90.0 243.5 L94.0 243.1 L98.0 242.7 L102.0 242.3 L106.0 242.0 L110.0 241.8 L114.0 241.7 L118.0 241.5 L122.0 241.4 L126.0 241.6 L130.0 241.7 L134.0 241.9 L138.0 242.0 L142.0 242.2 L146.0 242.3 L150.0 242.4 L154.0 242.8 L158.0 243.5 L162.0 244.3 L166.0 245.0 L170.0 246.0 L174.0 247.4 L178.0 248.9 L182.0 250.6 L186.0 253.8 L190.0 257.8 L194.0 261.8 L198.0 265.2 L200.2 279.0 L196.2 283.1 L192.2 287.4 L188.2 293.0 L184.2 299.2 L180.2 302.5 L176.2 305.8 L172.2 308.4 L168.2 310.6 L164.2 312.7 L160.2 314.9 L156.2 316.4 L152.2 317.6 L148.2 318.9 L144.2 320.1 L140.2 321.6 L136.2 323.2 L132.2 324.8 L128.2 326.4 L124.2 328.0 L120.2 329.6 L116.2 331.2 L112.2 332.8 L108.2 333.8 L104.2 334.6 L100.2 335.4 L96.2 336.2 L92.2 337.0 L88.2 337.8 L84.2 338.6 L80.2 339.4 L76.2 340.2 L72.2 341.0 L68.2 341.8 L64.2 342.6 L60.2 343.4 L56.2 344.2 L52.2 345.1 L48.2 345.9 L44.2 346.0 L40.2 346.0 L36.2 346.0 L32.2 346.0 L28.2 346.3 L24.2 346.7 L20.2 347.1 L16.2 347.5 L12.2 347.2 L8.2 346.8 L4.2 346.4 L0.2 346.0 L-3.8 346.0 L-7.8 346.0Z" fill="#2e2e2e" filter="url(#blurBig)"/>
<g fill="url(#dotG)"><circle cx="95.2" cy="246.0" r="2.51" opacity="0.28"/><circle cx="100.4" cy="247.3" r="2.68" opacity="0.54"/><circle cx="104.6" cy="247.0" r="2.40" opacity="0.56"/><circle cx="110.7" cy="247.1" r="2.54" opacity="0.53"/><circle cx="115.4" cy="247.5" r="2.73" opacity="0.50"/><circle cx="120.3" cy="247.7" r="2.52" opacity="0.54"/><circle cx="125.4" cy="248.0" r="2.52" opacity="0.52"/><circle cx="130.9" cy="248.3" r="2.53" opacity="0.55"/><circle cx="136.1" cy="248.6" r="2.69" opacity="0.50"/><circle cx="140.8" cy="248.7" r="2.55" opacity="0.53"/><circle cx="146.2" cy="249.0" r="2.53" opacity="0.49"/><circle cx="151.2" cy="248.7" r="2.74" opacity="0.47"/><circle cx="155.9" cy="249.5" r="2.47" opacity="0.54"/><circle cx="161.4" cy="250.3" r="2.66" opacity="0.53"/><circle cx="166.2" cy="249.8" r="2.61" opacity="0.53"/><circle cx="171.5" cy="249.7" r="2.57" opacity="0.27"/><circle cx="61.6" cy="248.8" r="2.60" opacity="0.31"/><circle cx="67.1" cy="249.5" r="2.66" opacity="0.39"/><circle cx="72.3" cy="249.7" r="2.59" opacity="0.44"/><circle cx="77.2" cy="249.9" r="2.43" opacity="0.47"/><circle cx="82.2" cy="250.1" r="2.39" opacity="0.54"/><circle cx="87.1" cy="250.7" r="2.45" opacity="0.53"/><circle cx="92.0" cy="251.0" r="2.53" opacity="0.49"/><circle cx="97.3" cy="250.8" r="2.42" opacity="0.49"/><circle cx="102.4" cy="251.4" r="2.52" opacity="0.53"/><circle cx="107.3" cy="251.5" r="2.64" opacity="0.55"/><circle cx="112.7" cy="252.1" r="2.71" opacity="0.47"/><circle cx="117.4" cy="252.0" r="2.61" opacity="0.49"/><circle cx="122.3" cy="252.4" r="2.58" opacity="0.50"/><circle cx="127.8" cy="252.2" r="2.54" opacity="0.51"/><circle cx="133.4" cy="252.6" r="2.66" opacity="0.55"/><circle cx="137.6" cy="253.1" r="2.58" opacity="0.54"/><circle cx="143.4" cy="253.8" r="2.71" opacity="0.55"/><circle cx="148.5" cy="253.7" r="2.42" opacity="0.55"/><circle cx="153.1" cy="253.3" r="2.60" opacity="0.55"/><circle cx="158.4" cy="254.3" r="2.61" opacity="0.47"/><circle cx="163.3" cy="254.7" r="2.67" opacity="0.57"/><circle cx="168.4" cy="255.2" r="2.55" opacity="0.56"/><circle cx="173.8" cy="255.0" r="2.44" opacity="0.51"/><circle cx="178.9" cy="255.1" r="2.50" opacity="0.52"/><circle cx="49.5" cy="253.4" r="2.65" opacity="0.48"/><circle cx="54.2" cy="253.0" r="2.52" opacity="0.55"/><circle cx="59.1" cy="253.4" r="2.44" opacity="0.54"/><circle cx="63.8" cy="254.1" r="2.57" opacity="0.48"/><circle cx="69.3" cy="254.0" r="2.49" opacity="0.51"/><circle cx="74.1" cy="254.6" r="2.47" opacity="0.53"/><circle cx="79.5" cy="254.9" r="2.40" opacity="0.49"/><circle cx="84.6" cy="254.8" r="2.63" opacity="0.52"/><circle cx="89.7" cy="254.7" r="2.45" opacity="0.54"/><circle cx="94.6" cy="254.9" r="2.64" opacity="0.52"/><circle cx="99.6" cy="255.4" r="2.67" opacity="0.54"/><circle cx="104.7" cy="256.3" r="2.51" opacity="0.54"/><circle cx="110.1" cy="256.2" r="2.70" opacity="0.57"/><circle cx="114.6" cy="256.0" r="2.71" opacity="0.55"/><circle cx="119.2" cy="256.9" r="2.60" opacity="0.48"/><circle cx="125.8" cy="256.8" r="2.64" opacity="0.56"/><circle cx="130.0" cy="257.6" r="2.73" opacity="0.54"/><circle cx="135.0" cy="257.5" r="2.63" opacity="0.54"/><circle cx="140.7" cy="258.6" r="2.49" opacity="0.54"/><circle cx="145.6" cy="257.7" r="2.59" opacity="0.51"/><circle cx="150.2" cy="258.5" r="2.39" opacity="0.51"/><circle cx="155.6" cy="258.2" r="2.61" opacity="0.50"/><circle cx="160.4" cy="258.7" r="2.44" opacity="0.48"/><circle cx="166.0" cy="258.9" r="2.39" opacity="0.47"/><circle cx="171.2" cy="259.5" r="2.38" opacity="0.49"/><circle cx="175.6" cy="259.7" r="2.62" opacity="0.51"/><circle cx="181.3" cy="259.9" r="2.44" opacity="0.57"/><circle cx="186.1" cy="259.8" r="2.66" opacity="0.48"/><circle cx="40.9" cy="257.4" r="2.53" opacity="0.49"/><circle cx="46.6" cy="257.3" r="2.68" opacity="0.49"/><circle cx="51.2" cy="257.3" r="2.59" opacity="0.51"/><circle cx="55.9" cy="258.1" r="2.54" opacity="0.55"/><circle cx="61.3" cy="258.0" r="2.40" opacity="0.50"/><circle cx="65.9" cy="258.2" r="2.40" opacity="0.55"/><circle cx="71.7" cy="258.3" r="2.39" opacity="0.54"/><circle cx="76.1" cy="258.7" r="2.50" opacity="0.54"/><circle cx="81.9" cy="259.2" r="2.56" opacity="0.53"/><circle cx="86.7" cy="259.7" r="2.53" opacity="0.53"/><circle cx="92.4" cy="259.3" r="2.41" opacity="0.55"/><circle cx="97.1" cy="260.1" r="2.63" opacity="0.55"/><circle cx="101.8" cy="260.0" r="2.47" opacity="0.51"/><circle cx="107.1" cy="260.2" r="2.43" opacity="0.47"/><circle cx="112.6" cy="260.9" r="2.65" opacity="0.50"/><circle cx="117.3" cy="261.2" r="2.61" opacity="0.55"/><circle cx="122.6" cy="261.3" r="2.44" opacity="0.53"/><circle cx="127.5" cy="261.6" r="2.64" opacity="0.57"/><circle cx="132.6" cy="261.7" r="2.46" opacity="0.52"/><circle cx="137.7" cy="261.7" r="2.64" opacity="0.47"/><circle cx="142.2" cy="261.9" r="2.41" opacity="0.55"/><circle cx="147.7" cy="262.8" r="2.57" opacity="0.47"/><circle cx="153.0" cy="262.8" r="2.47" opacity="0.52"/><circle cx="158.3" cy="263.0" r="2.40" opacity="0.52"/><circle cx="163.4" cy="263.3" r="2.39" opacity="0.53"/><circle cx="168.1" cy="263.9" r="2.70" opacity="0.57"/><circle cx="173.0" cy="264.3" r="2.68" opacity="0.47"/><circle cx="178.7" cy="263.6" r="2.53" opacity="0.53"/><circle cx="183.4" cy="263.9" r="2.46" opacity="0.54"/><circle cx="188.3" cy="263.9" r="2.41" opacity="0.47"/><circle cx="27.9" cy="261.0" r="2.67" opacity="0.29"/><circle cx="33.1" cy="260.7" r="2.43" opacity="0.48"/><circle cx="37.8" cy="261.3" r="2.48" opacity="0.57"/><circle cx="42.9" cy="261.7" r="2.57" opacity="0.51"/><circle cx="48.7" cy="262.0" r="2.73" opacity="0.49"/><circle cx="53.4" cy="262.2" r="2.40" opacity="0.49"/><circle cx="58.3" cy="262.7" r="2.41" opacity="0.52"/><circle cx="63.2" cy="262.4" r="2.45" opacity="0.48"/><circle cx="68.6" cy="262.8" r="2.63" opacity="0.57"/><circle cx="73.8" cy="262.8" r="2.64" opacity="0.53"/><circle cx="79.0" cy="263.9" r="2.47" opacity="0.55"/><circle cx="83.8" cy="263.4" r="2.43" opacity="0.48"/><circle cx="88.8" cy="264.0" r="2.58" opacity="0.49"/><circle cx="93.7" cy="263.9" r="2.69" opacity="0.51"/><circle cx="99.4" cy="264.1" r="2.62" opacity="0.55"/><circle cx="104.8" cy="264.8" r="2.55" opacity="0.50"/><circle cx="109.5" cy="265.0" r="2.64" opacity="0.52"/><circle cx="114.4" cy="265.2" r="2.46" opacity="0.51"/><circle cx="119.8" cy="265.7" r="2.42" opacity="0.54"/><circle cx="124.6" cy="265.9" r="2.53" opacity="0.48"/><circle cx="130.3" cy="265.7" r="2.41" opacity="0.50"/><circle cx="135.2" cy="266.4" r="2.45" opacity="0.54"/><circle cx="139.6" cy="266.9" r="2.41" opacity="0.52"/><circle cx="145.0" cy="266.5" r="2.43" opacity="0.50"/><circle cx="150.3" cy="266.8" r="2.46" opacity="0.51"/><circle cx="155.3" cy="267.8" r="2.58" opacity="0.49"/><circle cx="160.5" cy="267.1" r="2.61" opacity="0.49"/><circle cx="164.8" cy="267.9" r="2.50" opacity="0.54"/><circle cx="170.8" cy="267.4" r="2.70" opacity="0.53"/><circle cx="175.7" cy="268.5" r="2.52" opacity="0.56"/><circle cx="180.3" cy="268.1" r="2.60" opacity="0.55"/><circle cx="186.0" cy="268.3" r="2.49" opacity="0.48"/><circle cx="191.7" cy="268.5" r="2.63" opacity="0.48"/><circle cx="20.1" cy="264.4" r="2.42" opacity="0.29"/><circle cx="24.8" cy="265.0" r="2.74" opacity="0.48"/><circle cx="30.1" cy="265.6" r="2.67" opacity="0.53"/><circle cx="35.4" cy="265.9" r="2.73" opacity="0.53"/><circle cx="40.2" cy="266.0" r="2.68" opacity="0.57"/><circle cx="45.3" cy="265.7" r="2.52" opacity="0.54"/><circle cx="50.4" cy="266.1" r="2.52" opacity="0.52"/><circle cx="55.7" cy="266.8" r="2.50" opacity="0.49"/><circle cx="60.9" cy="266.7" r="2.50" opacity="0.52"/><circle cx="65.4" cy="267.4" r="2.49" opacity="0.48"/><circle cx="71.0" cy="267.4" r="2.52" opacity="0.47"/><circle cx="76.3" cy="267.7" r="2.44" opacity="0.57"/><circle cx="81.2" cy="267.8" r="2.44" opacity="0.57"/><circle cx="86.6" cy="268.7" r="2.47" opacity="0.51"/><circle cx="91.4" cy="268.6" r="2.63" opacity="0.57"/><circle cx="96.2" cy="269.0" r="2.51" opacity="0.53"/><circle cx="101.6" cy="268.5" r="2.58" opacity="0.51"/><circle cx="106.6" cy="269.3" r="2.42" opacity="0.52"/><circle cx="112.2" cy="269.8" r="2.69" opacity="0.51"/><circle cx="116.7" cy="269.7" r="2.74" opacity="0.50"/><circle cx="121.3" cy="270.1" r="2.53" opacity="0.51"/><circle cx="127.7" cy="270.2" r="2.69" opacity="0.53"/><circle cx="132.1" cy="270.4" r="2.65" opacity="0.57"/><circle cx="137.0" cy="270.8" r="2.66" opacity="0.56"/><circle cx="141.9" cy="271.2" r="2.61" opacity="0.49"/><circle cx="147.2" cy="270.9" r="2.65" opacity="0.55"/><circle cx="152.9" cy="272.0" r="2.41" opacity="0.54"/><circle cx="157.4" cy="271.8" r="2.54" opacity="0.54"/><circle cx="162.6" cy="272.3" r="2.62" opacity="0.54"/><circle cx="167.7" cy="272.0" r="2.71" opacity="0.53"/><circle cx="172.3" cy="272.7" r="2.56" opacity="0.48"/><circle cx="177.9" cy="272.8" r="2.62" opacity="0.47"/><circle cx="183.3" cy="273.0" r="2.54" opacity="0.54"/><circle cx="187.7" cy="273.3" r="2.64" opacity="0.49"/><circle cx="193.0" cy="273.3" r="2.73" opacity="0.47"/><circle cx="12.2" cy="269.3" r="2.68" opacity="0.52"/><circle cx="16.8" cy="269.3" r="2.47" opacity="0.57"/><circle cx="22.7" cy="268.8" r="2.58" opacity="0.50"/><circle cx="27.5" cy="269.3" r="2.69" opacity="0.48"/><circle cx="32.4" cy="269.8" r="2.63" opacity="0.47"/><circle cx="37.6" cy="270.0" r="2.42" opacity="0.50"/><circle cx="42.7" cy="270.4" r="2.43" opacity="0.50"/><circle cx="48.9" cy="270.7" r="2.62" opacity="0.53"/><circle cx="53.0" cy="271.1" r="2.54" opacity="0.49"/><circle cx="58.4" cy="271.3" r="2.57" opacity="0.53"/><circle cx="63.5" cy="271.8" r="2.44" opacity="0.53"/><circle cx="67.9" cy="271.6" r="2.40" opacity="0.50"/><circle cx="72.9" cy="271.9" r="2.69" opacity="0.55"/><circle cx="78.7" cy="272.2" r="2.67" opacity="0.50"/><circle cx="83.5" cy="271.6" r="2.45" opacity="0.49"/><circle cx="88.8" cy="272.6" r="2.48" opacity="0.49"/><circle cx="93.2" cy="273.0" r="2.43" opacity="0.50"/><circle cx="98.5" cy="273.4" r="2.52" opacity="0.51"/><circle cx="103.5" cy="273.7" r="2.39" opacity="0.49"/><circle cx="108.5" cy="274.2" r="2.64" opacity="0.47"/><circle cx="113.9" cy="274.5" r="2.50" opacity="0.53"/><circle cx="119.2" cy="274.5" r="2.48" opacity="0.52"/><circle cx="124.3" cy="274.8" r="2.45" opacity="0.54"/><circle cx="129.3" cy="274.3" r="2.68" opacity="0.51"/><circle cx="135.0" cy="275.4" r="2.43" opacity="0.54"/><circle cx="139.0" cy="275.6" r="2.73" opacity="0.57"/><circle cx="144.4" cy="275.3" r="2.67" opacity="0.50"/><circle cx="149.1" cy="275.8" r="2.65" opacity="0.55"/><circle cx="154.6" cy="275.7" r="2.57" opacity="0.55"/><circle cx="160.2" cy="276.7" r="2.68" opacity="0.53"/><circle cx="165.4" cy="276.2" r="2.73" opacity="0.56"/><circle cx="169.9" cy="276.6" r="2.46" opacity="0.56"/><circle cx="174.6" cy="276.6" r="2.68" opacity="0.51"/><circle cx="179.8" cy="276.6" r="2.40" opacity="0.51"/><circle cx="185.4" cy="277.4" r="2.48" opacity="0.55"/><circle cx="190.6" cy="277.5" r="2.51" opacity="0.50"/><circle cx="4.7" cy="273.1" r="2.50" opacity="0.38"/><circle cx="9.6" cy="273.3" r="2.71" opacity="0.51"/><circle cx="14.5" cy="273.5" r="2.55" opacity="0.51"/><circle cx="20.0" cy="273.9" r="2.40" opacity="0.51"/><circle cx="24.4" cy="273.6" r="2.52" opacity="0.47"/><circle cx="29.9" cy="274.7" r="2.42" opacity="0.53"/><circle cx="34.8" cy="274.4" r="2.49" opacity="0.54"/><circle cx="39.6" cy="275.3" r="2.44" opacity="0.49"/><circle cx="44.9" cy="275.1" r="2.45" opacity="0.48"/><circle cx="50.6" cy="274.4" r="2.46" opacity="0.55"/><circle cx="55.4" cy="275.8" r="2.55" opacity="0.52"/><circle cx="60.5" cy="275.7" r="2.67" opacity="0.47"/><circle cx="65.8" cy="275.6" r="2.69" opacity="0.48"/><circle cx="70.5" cy="276.0" r="2.74" opacity="0.57"/><circle cx="76.1" cy="276.1" r="2.60" opacity="0.49"/><circle cx="80.4" cy="276.6" r="2.44" opacity="0.57"/><circle cx="86.1" cy="277.0" r="2.62" opacity="0.55"/><circle cx="91.6" cy="277.0" r="2.54" opacity="0.56"/><circle cx="96.0" cy="277.3" r="2.68" opacity="0.47"/><circle cx="100.3" cy="278.0" r="2.54" opacity="0.55"/><circle cx="106.0" cy="277.7" r="2.70" opacity="0.51"/><circle cx="111.3" cy="278.5" r="2.61" opacity="0.51"/><circle cx="116.2" cy="278.9" r="2.72" opacity="0.48"/><circle cx="120.9" cy="278.6" r="2.59" opacity="0.49"/><circle cx="127.1" cy="278.7" r="2.42" opacity="0.50"/><circle cx="131.4" cy="279.3" r="2.56" opacity="0.52"/><circle cx="136.7" cy="279.0" r="2.59" opacity="0.54"/><circle cx="142.2" cy="280.1" r="2.60" opacity="0.49"/><circle cx="146.8" cy="280.3" r="2.66" opacity="0.57"/><circle cx="152.1" cy="280.4" r="2.72" opacity="0.55"/><circle cx="157.2" cy="280.7" r="2.51" opacity="0.50"/><circle cx="162.4" cy="280.7" r="2.72" opacity="0.50"/><circle cx="167.0" cy="280.6" r="2.60" opacity="0.54"/><circle cx="172.4" cy="281.6" r="2.65" opacity="0.54"/><circle cx="177.7" cy="282.0" r="2.59" opacity="0.49"/><circle cx="182.6" cy="281.4" r="2.44" opacity="0.54"/><circle cx="187.8" cy="282.2" r="2.60" opacity="0.54"/><circle cx="192.2" cy="281.9" r="2.60" opacity="0.49"/><circle cx="-3.5" cy="277.1" r="2.67" opacity="0.28"/><circle cx="1.0" cy="276.9" r="2.41" opacity="0.54"/><circle cx="6.5" cy="277.3" r="2.57" opacity="0.49"/><circle cx="11.9" cy="278.1" r="2.50" opacity="0.49"/><circle cx="16.5" cy="278.3" r="2.54" opacity="0.51"/><circle cx="22.3" cy="277.9" r="2.57" opacity="0.54"/><circle cx="27.1" cy="278.3" r="2.45" opacity="0.56"/><circle cx="31.9" cy="278.6" r="2.59" opacity="0.51"/><circle cx="37.4" cy="279.4" r="2.70" opacity="0.56"/><circle cx="42.3" cy="279.3" r="2.54" opacity="0.56"/><circle cx="47.2" cy="279.9" r="2.52" opacity="0.50"/><circle cx="52.1" cy="280.2" r="2.58" opacity="0.51"/><circle cx="57.0" cy="280.3" r="2.41" opacity="0.55"/><circle cx="62.9" cy="280.5" r="2.43" opacity="0.49"/><circle cx="67.8" cy="280.7" r="2.66" opacity="0.49"/><circle cx="72.5" cy="281.3" r="2.49" opacity="0.51"/><circle cx="77.6" cy="280.9" r="2.70" opacity="0.56"/><circle cx="82.1" cy="281.6" r="2.46" opacity="0.53"/><circle cx="88.0" cy="281.8" r="2.40" opacity="0.57"/><circle cx="93.1" cy="282.1" r="2.47" opacity="0.49"/><circle cx="98.0" cy="281.5" r="2.52" opacity="0.52"/><circle cx="104.1" cy="282.4" r="2.67" opacity="0.57"/><circle cx="108.2" cy="282.4" r="2.71" opacity="0.53"/><circle cx="114.2" cy="282.5" r="2.45" opacity="0.55"/><circle cx="119.2" cy="282.9" r="2.49" opacity="0.52"/><circle cx="123.7" cy="284.1" r="2.50" opacity="0.53"/><circle cx="128.9" cy="283.5" r="2.50" opacity="0.54"/><circle cx="134.1" cy="283.6" r="2.50" opacity="0.53"/><circle cx="138.9" cy="283.5" r="2.45" opacity="0.54"/><circle cx="144.5" cy="283.6" r="2.43" opacity="0.50"/><circle cx="149.2" cy="284.5" r="2.66" opacity="0.52"/><circle cx="154.6" cy="285.5" r="2.56" opacity="0.54"/><circle cx="159.6" cy="285.3" r="2.62" opacity="0.56"/><circle cx="164.7" cy="284.9" r="2.41" opacity="0.54"/><circle cx="169.9" cy="285.2" r="2.58" opacity="0.50"/><circle cx="174.4" cy="286.2" r="2.59" opacity="0.53"/><circle cx="180.2" cy="286.7" r="2.70" opacity="0.49"/><circle cx="184.4" cy="286.1" r="2.51" opacity="0.55"/><circle cx="189.8" cy="286.5" r="2.47" opacity="0.42"/><circle cx="-1.3" cy="282.0" r="2.47" opacity="0.55"/><circle cx="3.8" cy="281.7" r="2.74" opacity="0.56"/><circle cx="9.3" cy="281.8" r="2.70" opacity="0.53"/><circle cx="13.4" cy="282.1" r="2.40" opacity="0.52"/><circle cx="19.1" cy="282.3" r="2.44" opacity="0.54"/><circle cx="24.8" cy="282.3" r="2.70" opacity="0.57"/><circle cx="29.6" cy="282.7" r="2.68" opacity="0.52"/><circle cx="34.6" cy="282.8" r="2.42" opacity="0.55"/><circle cx="39.7" cy="282.9" r="2.69" opacity="0.47"/><circle cx="44.6" cy="284.0" r="2.61" opacity="0.56"/><circle cx="50.1" cy="283.8" r="2.63" opacity="0.50"/><circle cx="54.7" cy="284.1" r="2.54" opacity="0.48"/><circle cx="59.6" cy="284.2" r="2.44" opacity="0.50"/><circle cx="65.1" cy="285.0" r="2.39" opacity="0.51"/><circle cx="69.7" cy="285.1" r="2.62" opacity="0.57"/><circle cx="74.9" cy="284.8" r="2.56" opacity="0.48"/><circle cx="80.1" cy="285.3" r="2.40" opacity="0.54"/><circle cx="85.4" cy="285.8" r="2.74" opacity="0.56"/><circle cx="90.5" cy="286.6" r="2.40" opacity="0.52"/><circle cx="94.9" cy="286.7" r="2.59" opacity="0.57"/><circle cx="101.5" cy="286.2" r="2.53" opacity="0.50"/><circle cx="105.8" cy="286.6" r="2.46" opacity="0.53"/><circle cx="111.0" cy="287.1" r="2.71" opacity="0.50"/><circle cx="116.2" cy="287.9" r="2.54" opacity="0.55"/><circle cx="120.6" cy="288.1" r="2.45" opacity="0.49"/><circle cx="126.1" cy="288.0" r="2.59" opacity="0.47"/><circle cx="131.7" cy="287.8" r="2.70" opacity="0.54"/><circle cx="136.0" cy="287.7" r="2.70" opacity="0.56"/><circle cx="141.6" cy="288.9" r="2.63" opacity="0.51"/><circle cx="146.4" cy="288.8" r="2.40" opacity="0.51"/><circle cx="151.7" cy="289.2" r="2.42" opacity="0.49"/><circle cx="156.5" cy="289.6" r="2.67" opacity="0.57"/><circle cx="162.1" cy="289.9" r="2.72" opacity="0.47"/><circle cx="167.4" cy="289.9" r="2.73" opacity="0.50"/><circle cx="171.4" cy="290.3" r="2.52" opacity="0.49"/><circle cx="177.5" cy="290.6" r="2.53" opacity="0.50"/><circle cx="181.9" cy="290.3" r="2.39" opacity="0.53"/><circle cx="187.3" cy="290.9" r="2.61" opacity="0.36"/><circle cx="-3.6" cy="285.6" r="2.50" opacity="0.54"/><circle cx="1.1" cy="286.1" r="2.69" opacity="0.48"/><circle cx="6.3" cy="286.1" r="2.43" opacity="0.48"/><circle cx="11.1" cy="286.9" r="2.60" opacity="0.48"/><circle cx="16.4" cy="286.7" r="2.64" opacity="0.53"/><circle cx="21.3" cy="287.2" r="2.58" opacity="0.48"/><circle cx="26.5" cy="287.4" r="2.58" opacity="0.54"/><circle cx="31.3" cy="287.4" r="2.66" opacity="0.54"/><circle cx="36.7" cy="287.3" r="2.48" opacity="0.54"/><circle cx="41.3" cy="288.2" r="2.41" opacity="0.49"/><circle cx="47.6" cy="287.9" r="2.71" opacity="0.53"/><circle cx="52.1" cy="288.7" r="2.64" opacity="0.49"/><circle cx="57.1" cy="288.8" r="2.60" opacity="0.51"/><circle cx="62.5" cy="288.8" r="2.54" opacity="0.48"/><circle cx="67.2" cy="289.3" r="2.52" opacity="0.49"/><circle cx="72.4" cy="288.9" r="2.73" opacity="0.56"/><circle cx="77.5" cy="290.1" r="2.51" opacity="0.49"/><circle cx="82.7" cy="290.5" r="2.65" opacity="0.52"/><circle cx="87.6" cy="290.2" r="2.55" opacity="0.52"/><circle cx="92.7" cy="290.5" r="2.45" opacity="0.56"/><circle cx="98.1" cy="290.8" r="2.52" opacity="0.57"/><circle cx="102.8" cy="291.2" r="2.64" opacity="0.54"/><circle cx="108.2" cy="291.2" r="2.47" opacity="0.48"/><circle cx="113.0" cy="291.4" r="2.43" opacity="0.53"/><circle cx="118.1" cy="291.2" r="2.53" opacity="0.53"/><circle cx="123.3" cy="292.1" r="2.65" opacity="0.55"/><circle cx="128.8" cy="292.7" r="2.62" opacity="0.55"/><circle cx="133.4" cy="292.3" r="2.69" opacity="0.53"/><circle cx="138.4" cy="293.0" r="2.55" opacity="0.55"/><circle cx="143.7" cy="293.1" r="2.48" opacity="0.53"/><circle cx="149.0" cy="293.3" r="2.68" opacity="0.57"/><circle cx="153.3" cy="293.5" r="2.53" opacity="0.54"/><circle cx="158.7" cy="294.0" r="2.55" opacity="0.51"/><circle cx="163.8" cy="294.3" r="2.69" opacity="0.52"/><circle cx="169.3" cy="293.9" r="2.45" opacity="0.49"/><circle cx="174.3" cy="294.5" r="2.44" opacity="0.47"/><circle cx="179.3" cy="295.2" r="2.47" opacity="0.54"/><circle cx="184.2" cy="295.4" r="2.74" opacity="0.36"/><circle cx="-1.7" cy="290.3" r="2.42" opacity="0.51"/><circle cx="3.4" cy="290.5" r="2.43" opacity="0.55"/><circle cx="8.7" cy="290.9" r="2.60" opacity="0.55"/><circle cx="13.6" cy="291.5" r="2.67" opacity="0.48"/><circle cx="18.6" cy="290.9" r="2.69" opacity="0.51"/><circle cx="23.8" cy="291.4" r="2.45" opacity="0.55"/><circle cx="28.9" cy="291.9" r="2.43" opacity="0.50"/><circle cx="33.5" cy="292.3" r="2.73" opacity="0.51"/><circle cx="39.1" cy="292.6" r="2.72" opacity="0.47"/><circle cx="44.0" cy="293.1" r="2.40" opacity="0.56"/><circle cx="49.3" cy="292.8" r="2.39" opacity="0.55"/><circle cx="54.0" cy="293.4" r="2.40" opacity="0.56"/><circle cx="59.9" cy="293.9" r="2.52" opacity="0.55"/><circle cx="65.1" cy="293.3" r="2.69" opacity="0.52"/><circle cx="69.5" cy="294.2" r="2.46" opacity="0.51"/><circle cx="75.6" cy="293.6" r="2.55" opacity="0.52"/><circle cx="80.2" cy="294.1" r="2.51" opacity="0.55"/><circle cx="85.0" cy="294.8" r="2.68" opacity="0.51"/><circle cx="90.1" cy="294.9" r="2.51" opacity="0.52"/><circle cx="94.8" cy="294.4" r="2.49" opacity="0.48"/><circle cx="100.4" cy="295.0" r="2.60" opacity="0.55"/><circle cx="105.8" cy="295.6" r="2.69" opacity="0.48"/><circle cx="109.9" cy="295.9" r="2.64" opacity="0.57"/><circle cx="115.4" cy="296.6" r="2.40" opacity="0.48"/><circle cx="120.5" cy="296.1" r="2.49" opacity="0.52"/><circle cx="125.6" cy="297.1" r="2.59" opacity="0.54"/><circle cx="130.4" cy="297.2" r="2.70" opacity="0.57"/><circle cx="135.6" cy="297.6" r="2.62" opacity="0.56"/><circle cx="141.0" cy="297.6" r="2.48" opacity="0.48"/><circle cx="146.1" cy="297.5" r="2.70" opacity="0.54"/><circle cx="151.0" cy="297.7" r="2.64" opacity="0.50"/><circle cx="156.3" cy="298.2" r="2.50" opacity="0.50"/><circle cx="160.8" cy="298.8" r="2.49" opacity="0.53"/><circle cx="166.7" cy="298.7" r="2.53" opacity="0.49"/><circle cx="171.3" cy="298.6" r="2.70" opacity="0.51"/><circle cx="176.4" cy="299.2" r="2.58" opacity="0.50"/><circle cx="-3.9" cy="294.5" r="2.67" opacity="0.48"/><circle cx="0.9" cy="294.8" r="2.67" opacity="0.51"/><circle cx="5.9" cy="294.9" r="2.55" opacity="0.53"/><circle cx="10.8" cy="295.3" r="2.49" opacity="0.47"/><circle cx="16.1" cy="295.4" r="2.55" opacity="0.49"/><circle cx="20.8" cy="296.0" r="2.60" opacity="0.47"/><circle cx="26.3" cy="295.7" r="2.58" opacity="0.55"/><circle cx="31.0" cy="296.0" r="2.41" opacity="0.55"/><circle cx="36.3" cy="296.3" r="2.45" opacity="0.51"/><circle cx="41.6" cy="296.5" r="2.58" opacity="0.53"/><circle cx="46.5" cy="297.4" r="2.66" opacity="0.50"/><circle cx="51.7" cy="297.5" r="2.40" opacity="0.50"/><circle cx="57.0" cy="297.8" r="2.54" opacity="0.54"/><circle cx="61.7" cy="298.0" r="2.57" opacity="0.51"/><circle cx="67.5" cy="298.2" r="2.70" opacity="0.50"/><circle cx="72.3" cy="298.4" r="2.58" opacity="0.54"/><circle cx="77.0" cy="298.7" r="2.46" opacity="0.54"/><circle cx="81.7" cy="298.8" r="2.53" opacity="0.57"/><circle cx="87.2" cy="298.9" r="2.51" opacity="0.54"/><circle cx="92.0" cy="299.3" r="2.70" opacity="0.56"/><circle cx="97.6" cy="300.2" r="2.67" opacity="0.53"/><circle cx="102.7" cy="300.3" r="2.51" opacity="0.47"/><circle cx="107.8" cy="300.2" r="2.66" opacity="0.54"/><circle cx="112.3" cy="301.3" r="2.42" opacity="0.49"/><circle cx="117.8" cy="300.3" r="2.49" opacity="0.57"/><circle cx="123.1" cy="300.8" r="2.44" opacity="0.54"/><circle cx="127.7" cy="301.6" r="2.59" opacity="0.53"/><circle cx="132.8" cy="301.0" r="2.56" opacity="0.53"/><circle cx="138.0" cy="302.2" r="2.66" opacity="0.50"/><circle cx="143.8" cy="301.9" r="2.73" opacity="0.50"/><circle cx="148.6" cy="302.0" r="2.69" opacity="0.50"/><circle cx="153.6" cy="301.8" r="2.41" opacity="0.49"/><circle cx="158.4" cy="302.2" r="2.65" opacity="0.52"/><circle cx="163.5" cy="303.2" r="2.57" opacity="0.55"/><circle cx="168.8" cy="303.2" r="2.38" opacity="0.55"/><circle cx="173.4" cy="304.0" r="2.72" opacity="0.33"/><circle cx="-2.1" cy="299.1" r="2.58" opacity="0.48"/><circle cx="3.4" cy="299.7" r="2.48" opacity="0.52"/><circle cx="7.3" cy="299.3" r="2.48" opacity="0.53"/><circle cx="12.8" cy="299.8" r="2.61" opacity="0.52"/><circle cx="18.4" cy="299.6" r="2.45" opacity="0.47"/><circle cx="23.3" cy="300.1" r="2.64" opacity="0.56"/><circle cx="28.7" cy="300.4" r="2.69" opacity="0.48"/><circle cx="33.7" cy="300.8" r="2.48" opacity="0.51"/><circle cx="38.7" cy="301.0" r="2.64" opacity="0.51"/><circle cx="43.8" cy="300.8" r="2.49" opacity="0.53"/><circle cx="48.9" cy="301.6" r="2.44" opacity="0.47"/><circle cx="53.9" cy="302.1" r="2.50" opacity="0.57"/><circle cx="58.9" cy="302.3" r="2.40" opacity="0.56"/><circle cx="64.0" cy="301.9" r="2.58" opacity="0.56"/><circle cx="69.0" cy="302.4" r="2.72" opacity="0.48"/><circle cx="74.4" cy="303.6" r="2.74" opacity="0.57"/><circle cx="79.5" cy="302.6" r="2.57" opacity="0.56"/><circle cx="84.2" cy="303.6" r="2.62" opacity="0.56"/><circle cx="90.1" cy="303.6" r="2.55" opacity="0.50"/><circle cx="94.3" cy="303.7" r="2.68" opacity="0.49"/><circle cx="99.8" cy="304.2" r="2.53" opacity="0.49"/><circle cx="104.6" cy="304.2" r="2.46" opacity="0.50"/><circle cx="110.0" cy="304.5" r="2.69" opacity="0.53"/><circle cx="115.3" cy="305.2" r="2.71" opacity="0.49"/><circle cx="120.0" cy="305.1" r="2.42" opacity="0.54"/><circle cx="124.8" cy="305.2" r="2.64" opacity="0.50"/><circle cx="130.5" cy="305.1" r="2.60" opacity="0.49"/><circle cx="135.4" cy="305.8" r="2.47" opacity="0.50"/><circle cx="140.4" cy="306.4" r="2.61" opacity="0.51"/><circle cx="145.4" cy="306.7" r="2.74" opacity="0.53"/><circle cx="150.3" cy="306.5" r="2.69" opacity="0.52"/><circle cx="156.1" cy="306.6" r="2.39" opacity="0.55"/><circle cx="161.3" cy="307.1" r="2.66" opacity="0.55"/><circle cx="166.3" cy="307.3" r="2.67" opacity="0.43"/><circle cx="-0.2" cy="303.3" r="2.53" opacity="0.56"/><circle cx="5.1" cy="304.0" r="2.70" opacity="0.53"/><circle cx="10.7" cy="303.9" r="2.41" opacity="0.48"/><circle cx="15.6" cy="304.4" r="2.39" opacity="0.56"/><circle cx="20.5" cy="304.1" r="2.70" opacity="0.56"/><circle cx="25.9" cy="305.1" r="2.65" opacity="0.52"/><circle cx="30.4" cy="305.3" r="2.54" opacity="0.49"/><circle cx="35.8" cy="305.7" r="2.55" opacity="0.52"/><circle cx="40.6" cy="305.8" r="2.64" opacity="0.55"/><circle cx="46.4" cy="306.2" r="2.67" opacity="0.49"/><circle cx="50.9" cy="306.0" r="2.63" opacity="0.56"/><circle cx="56.9" cy="306.4" r="2.72" opacity="0.49"/><circle cx="61.2" cy="307.1" r="2.39" opacity="0.49"/><circle cx="66.5" cy="307.0" r="2.60" opacity="0.49"/><circle cx="71.4" cy="306.5" r="2.41" opacity="0.56"/><circle cx="76.6" cy="307.5" r="2.63" opacity="0.52"/><circle cx="81.0" cy="307.6" r="2.52" opacity="0.52"/><circle cx="87.0" cy="308.1" r="2.69" opacity="0.47"/><circle cx="92.0" cy="307.8" r="2.44" opacity="0.52"/><circle cx="97.2" cy="308.4" r="2.63" opacity="0.53"/><circle cx="101.9" cy="308.7" r="2.57" opacity="0.53"/><circle cx="107.5" cy="308.8" r="2.68" opacity="0.54"/><circle cx="112.1" cy="309.3" r="2.42" opacity="0.50"/><circle cx="117.5" cy="310.1" r="2.57" opacity="0.56"/><circle cx="122.1" cy="310.3" r="2.63" opacity="0.53"/><circle cx="127.8" cy="309.8" r="2.68" opacity="0.53"/><circle cx="132.7" cy="310.1" r="2.51" opacity="0.55"/><circle cx="137.7" cy="310.5" r="2.62" opacity="0.52"/><circle cx="142.4" cy="311.3" r="2.58" opacity="0.50"/><circle cx="148.6" cy="311.2" r="2.54" opacity="0.51"/><circle cx="152.8" cy="311.1" r="2.47" opacity="0.51"/><circle cx="158.4" cy="311.9" r="2.50" opacity="0.34"/><circle cx="-2.9" cy="307.5" r="2.43" opacity="0.51"/><circle cx="2.9" cy="308.3" r="2.70" opacity="0.47"/><circle cx="7.7" cy="308.8" r="2.44" opacity="0.49"/><circle cx="12.5" cy="308.3" r="2.63" opacity="0.48"/><circle cx="18.5" cy="309.3" r="2.73" opacity="0.56"/><circle cx="23.0" cy="309.3" r="2.53" opacity="0.51"/><circle cx="27.9" cy="309.7" r="2.62" opacity="0.51"/><circle cx="33.0" cy="310.1" r="2.50" opacity="0.51"/><circle cx="38.4" cy="310.2" r="2.48" opacity="0.54"/><circle cx="42.7" cy="310.5" r="2.67" opacity="0.53"/><circle cx="48.9" cy="310.5" r="2.53" opacity="0.56"/><circle cx="53.2" cy="310.8" r="2.72" opacity="0.50"/><circle cx="58.7" cy="310.8" r="2.47" opacity="0.48"/><circle cx="64.1" cy="310.8" r="2.47" opacity="0.53"/><circle cx="68.7" cy="312.0" r="2.60" opacity="0.49"/><circle cx="73.9" cy="311.5" r="2.60" opacity="0.55"/><circle cx="78.4" cy="311.5" r="2.56" opacity="0.56"/><circle cx="84.0" cy="312.2" r="2.45" opacity="0.56"/><circle cx="89.1" cy="312.5" r="2.50" opacity="0.56"/><circle cx="93.9" cy="312.9" r="2.44" opacity="0.55"/><circle cx="98.9" cy="312.8" r="2.72" opacity="0.49"/><circle cx="104.6" cy="312.9" r="2.74" opacity="0.47"/><circle cx="109.4" cy="313.2" r="2.51" opacity="0.53"/><circle cx="114.5" cy="313.8" r="2.67" opacity="0.54"/><circle cx="119.4" cy="314.0" r="2.43" opacity="0.48"/><circle cx="124.5" cy="313.6" r="2.72" opacity="0.54"/><circle cx="130.1" cy="314.7" r="2.47" opacity="0.50"/><circle cx="134.9" cy="314.7" r="2.40" opacity="0.49"/><circle cx="140.0" cy="315.5" r="2.52" opacity="0.53"/><circle cx="145.4" cy="315.3" r="2.60" opacity="0.41"/><circle cx="0.4" cy="312.8" r="2.65" opacity="0.56"/><circle cx="4.9" cy="311.9" r="2.62" opacity="0.55"/><circle cx="9.5" cy="312.8" r="2.42" opacity="0.54"/><circle cx="14.6" cy="313.0" r="2.64" opacity="0.48"/><circle cx="20.3" cy="313.4" r="2.50" opacity="0.49"/><circle cx="25.3" cy="313.8" r="2.59" opacity="0.55"/><circle cx="30.7" cy="314.0" r="2.57" opacity="0.52"/><circle cx="35.7" cy="314.9" r="2.53" opacity="0.56"/><circle cx="39.5" cy="315.2" r="2.46" opacity="0.55"/><circle cx="45.9" cy="314.9" r="2.50" opacity="0.56"/><circle cx="50.7" cy="315.1" r="2.65" opacity="0.48"/><circle cx="55.8" cy="315.2" r="2.53" opacity="0.53"/><circle cx="60.6" cy="315.7" r="2.51" opacity="0.52"/><circle cx="65.7" cy="315.6" r="2.40" opacity="0.55"/><circle cx="71.1" cy="316.1" r="2.63" opacity="0.56"/><circle cx="76.2" cy="316.4" r="2.59" opacity="0.55"/><circle cx="80.9" cy="316.7" r="2.67" opacity="0.55"/><circle cx="86.2" cy="316.9" r="2.59" opacity="0.47"/><circle cx="91.8" cy="317.0" r="2.60" opacity="0.56"/><circle cx="95.9" cy="316.9" r="2.62" opacity="0.57"/><circle cx="101.6" cy="317.9" r="2.71" opacity="0.52"/><circle cx="106.6" cy="317.6" r="2.64" opacity="0.54"/><circle cx="112.2" cy="318.2" r="2.59" opacity="0.57"/><circle cx="117.1" cy="318.1" r="2.44" opacity="0.51"/><circle cx="122.2" cy="318.3" r="2.65" opacity="0.55"/><circle cx="127.1" cy="319.1" r="2.52" opacity="0.53"/><circle cx="131.7" cy="319.5" r="2.42" opacity="0.53"/><circle cx="137.1" cy="319.1" r="2.43" opacity="0.36"/><circle cx="-2.7" cy="316.8" r="2.40" opacity="0.55"/><circle cx="2.0" cy="317.1" r="2.39" opacity="0.57"/><circle cx="7.1" cy="317.4" r="2.62" opacity="0.49"/><circle cx="12.1" cy="317.1" r="2.42" opacity="0.48"/><circle cx="17.1" cy="317.9" r="2.63" opacity="0.53"/><circle cx="22.8" cy="317.8" r="2.51" opacity="0.50"/><circle cx="27.4" cy="318.2" r="2.73" opacity="0.51"/><circle cx="32.1" cy="318.5" r="2.73" opacity="0.48"/><circle cx="37.8" cy="318.5" r="2.70" opacity="0.50"/><circle cx="42.8" cy="319.1" r="2.42" opacity="0.54"/><circle cx="48.2" cy="319.3" r="2.51" opacity="0.53"/><circle cx="53.2" cy="319.3" r="2.65" opacity="0.56"/><circle cx="58.1" cy="319.9" r="2.44" opacity="0.50"/><circle cx="63.1" cy="319.9" r="2.60" opacity="0.55"/><circle cx="69.1" cy="320.4" r="2.58" opacity="0.48"/><circle cx="73.5" cy="320.6" r="2.64" opacity="0.48"/><circle cx="78.7" cy="321.0" r="2.45" opacity="0.49"/><circle cx="83.6" cy="320.6" r="2.62" opacity="0.49"/><circle cx="89.0" cy="321.2" r="2.56" opacity="0.51"/><circle cx="94.1" cy="321.6" r="2.54" opacity="0.50"/><circle cx="99.0" cy="322.0" r="2.63" opacity="0.52"/><circle cx="104.0" cy="322.0" r="2.45" opacity="0.50"/><circle cx="108.7" cy="322.2" r="2.60" opacity="0.57"/><circle cx="113.9" cy="322.7" r="2.51" opacity="0.48"/><circle cx="119.2" cy="322.8" r="2.39" opacity="0.49"/><circle cx="124.7" cy="322.9" r="2.64" opacity="0.46"/><circle cx="-0.1" cy="321.3" r="2.47" opacity="0.50"/><circle cx="4.7" cy="321.6" r="2.58" opacity="0.52"/><circle cx="9.3" cy="321.6" r="2.72" opacity="0.49"/><circle cx="14.4" cy="321.9" r="2.64" opacity="0.51"/><circle cx="20.1" cy="322.3" r="2.68" opacity="0.56"/><circle cx="25.0" cy="322.5" r="2.64" opacity="0.47"/><circle cx="29.6" cy="322.8" r="2.64" opacity="0.54"/><circle cx="35.2" cy="322.9" r="2.73" opacity="0.52"/><circle cx="40.0" cy="323.3" r="2.67" opacity="0.54"/><circle cx="45.2" cy="323.4" r="2.51" opacity="0.55"/><circle cx="50.6" cy="324.1" r="2.59" opacity="0.48"/><circle cx="55.4" cy="324.4" r="2.73" opacity="0.48"/><circle cx="60.3" cy="324.3" r="2.60" opacity="0.47"/><circle cx="65.8" cy="324.6" r="2.45" opacity="0.55"/><circle cx="70.1" cy="324.8" r="2.72" opacity="0.49"/><circle cx="75.3" cy="325.5" r="2.59" opacity="0.53"/><circle cx="80.6" cy="325.2" r="2.73" opacity="0.57"/><circle cx="85.6" cy="326.0" r="2.64" opacity="0.51"/><circle cx="90.5" cy="325.7" r="2.50" opacity="0.52"/><circle cx="96.3" cy="326.1" r="2.72" opacity="0.47"/><circle cx="101.3" cy="326.9" r="2.68" opacity="0.55"/><circle cx="106.4" cy="326.9" r="2.46" opacity="0.57"/><circle cx="111.7" cy="326.8" r="2.56" opacity="0.50"/><circle cx="115.9" cy="327.4" r="2.48" opacity="0.34"/><circle cx="-3.5" cy="325.5" r="2.71" opacity="0.50"/><circle cx="2.0" cy="326.3" r="2.54" opacity="0.50"/><circle cx="6.8" cy="325.7" r="2.62" opacity="0.52"/><circle cx="11.4" cy="326.2" r="2.41" opacity="0.48"/><circle cx="16.8" cy="326.3" r="2.57" opacity="0.57"/><circle cx="22.1" cy="327.2" r="2.68" opacity="0.56"/><circle cx="27.6" cy="327.2" r="2.49" opacity="0.47"/><circle cx="31.9" cy="327.4" r="2.66" opacity="0.54"/><circle cx="37.5" cy="327.4" r="2.65" opacity="0.49"/><circle cx="42.2" cy="327.4" r="2.70" opacity="0.49"/><circle cx="47.5" cy="328.2" r="2.58" opacity="0.57"/><circle cx="52.7" cy="328.1" r="2.70" opacity="0.51"/><circle cx="57.7" cy="328.7" r="2.44" opacity="0.51"/><circle cx="62.3" cy="328.3" r="2.59" opacity="0.56"/><circle cx="68.3" cy="328.8" r="2.70" opacity="0.49"/><circle cx="72.8" cy="329.3" r="2.62" opacity="0.56"/><circle cx="78.0" cy="329.6" r="2.61" opacity="0.56"/><circle cx="83.4" cy="329.9" r="2.56" opacity="0.51"/><circle cx="88.6" cy="330.0" r="2.46" opacity="0.47"/><circle cx="93.7" cy="330.9" r="2.51" opacity="0.52"/><circle cx="98.7" cy="330.4" r="2.61" opacity="0.51"/><circle cx="103.5" cy="331.2" r="2.51" opacity="0.35"/><circle cx="-1.6" cy="330.2" r="2.60" opacity="0.52"/><circle cx="3.9" cy="330.6" r="2.41" opacity="0.55"/><circle cx="8.9" cy="330.5" r="2.43" opacity="0.48"/><circle cx="14.0" cy="331.0" r="2.73" opacity="0.56"/><circle cx="19.2" cy="331.4" r="2.73" opacity="0.53"/><circle cx="24.5" cy="331.9" r="2.61" opacity="0.55"/><circle cx="29.1" cy="331.4" r="2.69" opacity="0.55"/><circle cx="34.3" cy="332.0" r="2.43" opacity="0.57"/><circle cx="39.2" cy="332.6" r="2.46" opacity="0.47"/><circle cx="44.8" cy="332.7" r="2.43" opacity="0.51"/><circle cx="49.9" cy="332.2" r="2.47" opacity="0.48"/><circle cx="55.0" cy="333.1" r="2.68" opacity="0.55"/><circle cx="60.0" cy="332.9" r="2.52" opacity="0.47"/><circle cx="64.8" cy="333.2" r="2.47" opacity="0.51"/><circle cx="69.9" cy="333.4" r="2.63" opacity="0.52"/><circle cx="75.4" cy="334.3" r="2.46" opacity="0.50"/><circle cx="80.3" cy="334.0" r="2.68" opacity="0.51"/><circle cx="85.3" cy="334.6" r="2.39" opacity="0.33"/><circle cx="-3.6" cy="334.3" r="2.44" opacity="0.55"/><circle cx="1.1" cy="334.2" r="2.66" opacity="0.52"/><circle cx="6.2" cy="334.8" r="2.55" opacity="0.54"/><circle cx="11.8" cy="334.6" r="2.49" opacity="0.56"/><circle cx="16.5" cy="335.7" r="2.43" opacity="0.57"/><circle cx="20.9" cy="335.8" r="2.65" opacity="0.48"/><circle cx="26.4" cy="335.7" r="2.63" opacity="0.55"/><circle cx="31.6" cy="335.8" r="2.63" opacity="0.53"/><circle cx="36.7" cy="337.1" r="2.50" opacity="0.48"/><circle cx="42.0" cy="337.1" r="2.63" opacity="0.51"/><circle cx="47.4" cy="337.0" r="2.61" opacity="0.57"/><circle cx="52.6" cy="337.4" r="2.50" opacity="0.52"/><circle cx="57.6" cy="337.5" r="2.53" opacity="0.50"/><circle cx="62.2" cy="337.8" r="2.46" opacity="0.53"/><circle cx="67.3" cy="337.8" r="2.45" opacity="0.43"/><circle cx="-1.7" cy="339.0" r="2.47" opacity="0.51"/><circle cx="4.0" cy="339.3" r="2.52" opacity="0.55"/><circle cx="9.0" cy="339.8" r="2.62" opacity="0.50"/><circle cx="14.0" cy="340.2" r="2.66" opacity="0.52"/><circle cx="18.7" cy="340.1" r="2.60" opacity="0.51"/><circle cx="23.7" cy="339.8" r="2.70" opacity="0.53"/><circle cx="29.0" cy="341.0" r="2.57" opacity="0.50"/><circle cx="33.9" cy="340.7" r="2.40" opacity="0.54"/><circle cx="39.0" cy="340.8" r="2.57" opacity="0.47"/><circle cx="44.8" cy="341.5" r="2.60" opacity="0.47"/><circle cx="49.0" cy="341.5" r="2.53" opacity="0.43"/><circle cx="54.0" cy="341.4" r="2.61" opacity="0.29"/><circle cx="15.8" cy="344.4" r="2.58" opacity="0.26"/></g>
<rect x="0" y="242" width="190.2" height="106.30000000000001" fill="url(#vigL)"/>
<rect x="144" y="332" width="32" height="2.1" fill="#a8a8a8"/><text x="160" y="342" text-anchor="middle" style="font-family:'Liberation Sans',sans-serif;font-size:8.2px;font-weight:bold" fill="#eeeeee">40 µm</text>
</g>
<g style="font-family:'Liberation Serif',serif;font-size:14.5px" fill="#000">
<rect x="257.6" y="25.4" width="198.90" height="115.90" fill="none" stroke="#7f7f7f" stroke-width="1"/>
<path d="M257.60 141.3v-2.7M257.60 25.4v2.7" stroke="#7f7f7f" stroke-width="1"/>
<path d="M312.47 141.3v-2.7M312.47 25.4v2.7" stroke="#7f7f7f" stroke-width="1"/>
<path d="M367.34 141.3v-2.7M367.34 25.4v2.7" stroke="#7f7f7f" stroke-width="1"/>
<path d="M422.21 141.3v-2.7M422.21 25.4v2.7" stroke="#7f7f7f" stroke-width="1"/>
<path d="M257.6 141.30h2.7M456.5 141.30h-2.7" stroke="#7f7f7f" stroke-width="1"/>
<path d="M257.6 112.33h2.7M456.5 112.33h-2.7" stroke="#7f7f7f" stroke-width="1"/>
<path d="M257.6 83.35h2.7M456.5 83.35h-2.7" stroke="#7f7f7f" stroke-width="1"/>
<path d="M257.6 54.38h2.7M456.5 54.38h-2.7" stroke="#7f7f7f" stroke-width="1"/>
<path d="M257.6 25.40h2.7M456.5 25.40h-2.7" stroke="#7f7f7f" stroke-width="1"/>
<text x="257.60" y="160.20" text-anchor="middle">0</text>
<text x="312.47" y="160.20" text-anchor="middle">20</text>
<text x="367.34" y="160.20" text-anchor="middle">40</text>
<text x="422.21" y="160.20" text-anchor="middle">60</text>
<text x="251.10" y="144.90" text-anchor="end">0</text>
<text x="251.10" y="115.93" text-anchor="end">0.2</text>
<text x="251.10" y="86.95" text-anchor="end">0.4</text>
<text x="251.10" y="57.98" text-anchor="end">0.6</text>
<text x="251.10" y="29.00" text-anchor="end">0.8</text>
<rect x="530.0" y="25.4" width="198.50" height="116.00" fill="none" stroke="#7f7f7f" stroke-width="1"/>
<path d="M530.00 141.4v-2.7M530.00 25.4v2.7" stroke="#7f7f7f" stroke-width="1"/>
<path d="M584.23 141.4v-2.7M584.23 25.4v2.7" stroke="#7f7f7f" stroke-width="1"/>
<path d="M638.47 141.4v-2.7M638.47 25.4v2.7" stroke="#7f7f7f" stroke-width="1"/>
<path d="M692.70 141.4v-2.7M692.70 25.4v2.7" stroke="#7f7f7f" stroke-width="1"/>
<path d="M530.0 141.40h2.7M728.5 141.40h-2.7" stroke="#7f7f7f" stroke-width="1"/>
<path d="M530.0 112.40h2.7M728.5 112.40h-2.7" stroke="#7f7f7f" stroke-width="1"/>
<path d="M530.0 83.40h2.7M728.5 83.40h-2.7" stroke="#7f7f7f" stroke-width="1"/>
<path d="M530.0 54.40h2.7M728.5 54.40h-2.7" stroke="#7f7f7f" stroke-width="1"/>
<path d="M530.0 25.40h2.7M728.5 25.40h-2.7" stroke="#7f7f7f" stroke-width="1"/>
<text x="530.00" y="160.30" text-anchor="middle">0</text>
<text x="584.23" y="160.30" text-anchor="middle">20</text>
<text x="638.47" y="160.30" text-anchor="middle">40</text>
<text x="692.70" y="160.30" text-anchor="middle">60</text>
<text x="523.50" y="145.00" text-anchor="end">0</text>
<text x="523.50" y="116.00" text-anchor="end">1</text>
<text x="523.50" y="87.00" text-anchor="end">2</text>
<text x="523.50" y="58.00" text-anchor="end">3</text>
<text x="523.50" y="29.00" text-anchor="end">4</text>
<rect x="257.7" y="193.5" width="198.60" height="114.90" fill="none" stroke="#7f7f7f" stroke-width="1"/>
<path d="M257.70 308.4v-2.7M257.70 193.5v2.7" stroke="#7f7f7f" stroke-width="1"/>
<path d="M307.35 308.4v-2.7M307.35 193.5v2.7" stroke="#7f7f7f" stroke-width="1"/>
<path d="M357.00 308.4v-2.7M357.00 193.5v2.7" stroke="#7f7f7f" stroke-width="1"/>
<path d="M406.65 308.4v-2.7M406.65 193.5v2.7" stroke="#7f7f7f" stroke-width="1"/>
<path d="M456.30 308.4v-2.7M456.30 193.5v2.7" stroke="#7f7f7f" stroke-width="1"/>
<path d="M257.7 308.40h2.7M456.3 308.40h-2.7" stroke="#7f7f7f" stroke-width="1"/>
<path d="M257.7 270.10h2.7M456.3 270.10h-2.7" stroke="#7f7f7f" stroke-width="1"/>
<path d="M257.7 231.80h2.7M456.3 231.80h-2.7" stroke="#7f7f7f" stroke-width="1"/>
<path d="M257.7 193.50h2.7M456.3 193.50h-2.7" stroke="#7f7f7f" stroke-width="1"/>
<text x="257.70" y="327.30" text-anchor="middle">0</text>
<text x="307.35" y="327.30" text-anchor="middle">1</text>
<text x="357.00" y="327.30" text-anchor="middle">2</text>
<text x="406.65" y="327.30" text-anchor="middle">3</text>
<text x="456.30" y="327.30" text-anchor="middle">4</text>
<text x="251.20" y="312.00" text-anchor="end">0</text>
<text x="251.20" y="273.70" text-anchor="end">1</text>
<text x="251.20" y="235.40" text-anchor="end">2</text>
<text x="251.20" y="197.10" text-anchor="end">3</text>
<rect x="529.6" y="192.5" width="198.90" height="116.20" fill="none" stroke="#7f7f7f" stroke-width="1"/>
<path d="M569.54 308.7v-2.7M569.54 192.5v2.7" stroke="#7f7f7f" stroke-width="1"/>
<path d="M632.93 308.7v-2.7M632.93 192.5v2.7" stroke="#7f7f7f" stroke-width="1"/>
<path d="M696.33 308.7v-2.7M696.33 192.5v2.7" stroke="#7f7f7f" stroke-width="1"/>
<path d="M529.6 308.70h2.7M728.5 308.70h-2.7" stroke="#7f7f7f" stroke-width="1"/>
<path d="M529.6 269.97h2.7M728.5 269.97h-2.7" stroke="#7f7f7f" stroke-width="1"/>
<path d="M529.6 231.23h2.7M728.5 231.23h-2.7" stroke="#7f7f7f" stroke-width="1"/>
<path d="M529.6 192.50h2.7M728.5 192.50h-2.7" stroke="#7f7f7f" stroke-width="1"/>
<text x="569.54" y="327.60" text-anchor="middle">4</text>
<text x="632.93" y="327.60" text-anchor="middle">8</text>
<text x="696.33" y="327.60" text-anchor="middle">12</text>
<text x="523.10" y="312.30" text-anchor="end">0</text>
<text x="523.10" y="273.57" text-anchor="end">1</text>
<text x="523.10" y="234.83" text-anchor="end">2</text>
<text x="523.10" y="196.10" text-anchor="end">3</text>
</g>
<defs><clipPath id="cpD"><rect x="257.6" y="25.4" width="198.90" height="115.90"/></clipPath><clipPath id="cpE"><rect x="530.0" y="25.4" width="198.50" height="116.00"/></clipPath><clipPath id="cpF"><rect x="257.7" y="193.5" width="198.60" height="114.90"/></clipPath><clipPath id="cpG"><rect x="529.6" y="192.5" width="198.90" height="116.20"/></clipPath></defs>
<path d="M257.90000000000003 44.72H456.5" stroke="#8c1f8c" stroke-width="1.6" stroke-dasharray="7 3.8"/>
<path d="M257.90000000000003 93.01H456.5" stroke="#34b534" stroke-width="1.6" stroke-dasharray="7 3.8"/>
<path d="M257.90000000000003 117.15H456.5" stroke="#ff4b33" stroke-width="1.6" stroke-dasharray="7 3.8"/>
<g clip-path="url(#cpD)"><path d="M258.3 126.9 L264.0 123.5 L266.3 122.9 L269.7 119.5 L273.2 118.3 L276.6 116.6 L281.2 115.5 L285.8 115.1 L290.4 115.5 L294.9 115.5 L299.5 116.0 L301.8 114.9 L302.3 106.3 L304.6 99.5 L306.9 94.9 L310.3 92.6 L313.7 89.7 L317.2 90.3 L319.5 89.7 L322.9 90.9 L326.3 91.5 L329.8 92.0 L334.4 91.5 L340.1 92.0 L343.5 91.2 L348.1 91.5 L350.0 91.6 L352.6 89.7 L355.2 89.0 L357.7 86.5 L359.4 85.0 L361.8 75.7 L364.2 72.5 L365.7 69.4 L367.3 61.5 L368.9 45.7 L370.2 36.3 L372.0 35.5 L374.4 34.7 L376.8 36.3 L379.1 35.5 L383.1 37.9 L386.2 38.7 L391.0 41.0 L396.5 42.1 L402.0 42.6 L413.0 41.5 L424.0 41.9 L435.0 41.5 L446.0 42.6 L456.3 43.2 L456.3 49.8 L446.0 49.2 L435.0 47.0 L424.0 47.0 L413.0 47.6 L402.0 47.6 L396.5 46.5 L391.0 45.4 L384.6 45.7 L381.5 46.5 L378.3 47.3 L375.2 50.5 L372.8 56.8 L371.3 64.6 L370.5 74.1 L369.7 85.0 L369.4 86.5 L368.1 99.4 L366.8 112.3 L365.7 118.7 L364.8 114.8 L362.9 109.7 L361.6 104.5 L359.7 108.4 L358.4 111.6 L357.1 105.8 L355.2 100.6 L352.6 96.8 L350.0 95.5 L345.8 94.9 L341.2 96.0 L336.6 94.9 L332.1 94.7 L327.5 94.3 L324.0 96.6 L320.6 97.7 L317.2 97.2 L316.0 100.0 L313.7 106.3 L311.5 112.0 L311.0 111.5 L308.7 114.9 L306.4 120.0 L304.1 122.9 L303.0 122.3 L301.2 118.9 L297.2 118.3 L290.4 119.2 L284.6 120.0 L281.2 121.8 L278.9 124.0 L276.6 125.8 L273.2 127.5 L270.9 130.9 L267.5 132.6 L262.9 133.2 L258.3 132.6Z" fill="#8a8a8a" stroke="#000" stroke-width="0.7"/><path d="M258.3 129.2 L260.6 130.0 L262.9 129.2 L265.2 128.0 L267.5 127.5 L269.7 125.8 L272.0 124.6 L274.3 122.9 L276.6 121.2 L278.9 120.0 L281.2 118.9 L283.5 118.3 L285.8 118.1 L288.1 117.7 L292.6 117.7 L297.2 117.5 L299.5 117.4 L301.8 116.0 L302.3 114.4 L304.6 110.9 L306.9 107.5 L309.2 104.6 L311.5 101.8 L313.7 98.3 L316.0 94.3 L317.2 93.2 L322.9 92.4 L328.6 91.8 L334.4 92.6 L340.1 92.9 L345.8 93.2 L350.4 93.2 L352.6 94.2 L355.2 95.5 L357.7 97.4 L359.0 98.1 L360.3 96.1 L361.6 91.6 L362.9 89.0 L364.2 92.3 L365.5 92.9 L366.8 87.7 L368.1 82.6 L369.2 77.2 L369.8 69.4 L370.5 61.5 L371.3 53.6 L372.0 47.3 L373.6 44.2 L376.8 42.3 L380.0 42.1 L385.5 42.6 L391.0 42.6 L396.5 43.7 L402.0 44.3 L407.4 44.3 L412.9 44.0 L418.4 44.0 L423.9 44.0 L429.4 44.0 L434.9 44.3 L440.4 44.5 L445.9 45.4 L451.4 45.6 L456.3 45.6" fill="none" stroke="#000" stroke-width="1.9" stroke-linejoin="round"/></g>
<g clip-path="url(#cpE)"><path d="M530.1 27.7 L532.3 29.9 L534.4 32.0 L536.6 29.2 L539.5 27.0 L541.6 30.6 L543.8 34.2 L545.9 37.8 L547.3 42.1 L548.8 43.2 L550.9 43.5 L552.4 50.7 L553.8 55.0 L555.9 55.7 L561.0 56.4 L568.1 57.1 L572.9 56.5 L575.0 54.7 L577.2 57.2 L580.0 60.8 L582.9 64.3 L585.8 67.9 L587.2 73.7 L588.6 80.1 L591.5 80.1 L595.1 78.7 L596.5 80.1 L605.8 80.1 L611.5 79.4 L614.4 80.5 L620.0 81.0 L624.2 80.6 L627.6 81.5 L632.2 81.2 L635.1 84.9 L636.8 88.9 L637.9 93.5 L640.8 94.7 L644.8 98.1 L652.8 99.2 L665.0 100.0 L728.0 100.1 L728.0 102.2 L665.0 101.9 L649.4 101.9 L641.4 102.1 L637.9 100.4 L635.1 97.5 L632.2 91.8 L629.9 88.9 L628.2 90.1 L626.5 85.5 L620.0 84.6 L613.0 84.4 L598.7 83.7 L590.0 83.7 L587.9 85.1 L585.8 86.5 L582.9 84.4 L579.3 83.0 L577.2 78.0 L575.7 70.8 L574.3 65.1 L572.9 62.9 L571.0 61.4 L563.8 61.0 L556.7 60.7 L553.8 61.4 L551.6 64.3 L549.5 66.7 L548.1 66.4 L545.9 62.8 L543.8 60.0 L541.6 57.8 L540.2 55.0 L538.7 49.2 L537.3 47.8 L535.9 46.4 L534.4 40.6 L533.0 37.8 L531.6 42.1 L530.1 47.8Z" fill="#8a8a8a" stroke="#000" stroke-width="0.7"/><path d="M530.1 37.8 L530.9 35.6 L532.3 34.6 L533.7 34.2 L535.2 36.3 L535.9 38.9 L537.3 37.8 L538.7 37.0 L540.2 38.5 L541.6 41.3 L543.0 44.2 L544.5 47.1 L545.9 49.2 L547.3 52.1 L548.8 54.2 L550.2 55.2 L551.6 55.7 L553.1 56.7 L554.5 57.8 L556.7 58.5 L561.0 59.0 L565.2 59.5 L569.5 60.0 L572.9 60.0 L574.3 61.5 L575.7 65.1 L577.9 69.4 L580.0 71.5 L582.9 74.4 L585.8 78.0 L587.9 80.8 L589.3 82.0 L592.9 81.5 L598.7 82.0 L605.8 82.2 L613.0 82.5 L620.7 82.8 L626.5 83.5 L629.9 85.5 L632.2 87.8 L633.9 90.6 L635.6 94.1 L637.9 97.0 L641.4 99.2 L646.0 100.0 L652.8 100.4 L660.9 100.7 L665.0 101.0 L680.0 101.2 L700.0 101.2 L728.0 101.2" fill="none" stroke="#000" stroke-width="1.9" stroke-linejoin="round"/></g>
<g clip-path="url(#cpF)" fill="none" stroke-width="2" stroke-linejoin="round">
<path d="M258.8 309.2 L265.2 307.5 L268.4 304.3 L270.7 307.5 L274.3 308.0 L278.9 307.1 L283.5 306.1 L286.3 305.7 L288.3 299.7 L289.9 302.9 L292.7 305.2 L296.4 307.1 L298.2 303.4 L300.0 297.4 L301.9 289.2 L303.2 280.0 L304.3 270.8 L306.5 260.8 L309.3 252.9 L312.9 255.8 L315.8 253.6 L317.9 249.3 L321.5 243.6 L322.9 240.7 L323.7 246.5 L325.1 257.9 L325.8 262.2 L327.2 260.1 L329.4 263.7 L332.2 268.0 L335.1 271.5 L338.0 273.0 L340.2 275.0 L343.4 282.7 L345.3 275.0 L347.9 280.2 L353.1 265.3 L357.6 274.4 L360.2 271.8 L365.3 277.6 L369.8 258.9 L373.7 264.0 L377.6 268.5 L380.2 264.7 L384.0 266.6 L387.9 274.4 L391.8 269.2 L393.4 269.3 L396.9 272.2 L399.7 273.9 L402.6 266.5 L404.9 273.3 L409.5 275.1 L412.9 271.1 L417.0 267.6 L419.8 268.2 L422.1 271.1 L425.0 261.3 L427.8 272.2 L430.1 263.0 L433.0 266.5 L435.3 273.9 L439.3 269.9 L445.0 274.5 L448.5 269.3 L453.1 268.8 L455.9 266.5" stroke="#ff4b33"/><path d="M258.8 309.2 L263.3 308.4 L267.9 307.1 L273.0 304.6 L275.7 306.6 L278.0 307.5 L280.8 306.6 L283.5 305.7 L286.3 306.1 L290.9 303.9 L293.6 305.2 L296.4 304.8 L298.2 304.0 L300.5 305.2 L302.8 302.9 L304.6 298.3 L306.0 289.2 L307.9 282.0 L310.0 263.7 L312.2 246.5 L313.7 226.0 L315.4 219.5 L316.9 227.3 L318.9 236.3 L321.5 238.2 L322.7 240.0 L323.7 246.5 L325.1 253.6 L326.5 259.4 L329.4 263.7 L332.2 268.7 L335.1 275.1 L336.5 278.0 L338.9 278.9 L342.7 279.5 L346.6 284.0 L350.5 280.8 L354.4 282.7 L357.6 273.1 L360.8 272.4 L364.0 266.0 L368.5 265.3 L372.4 264.0 L375.0 259.5 L378.9 264.0 L384.0 267.3 L386.6 268.5 L389.2 273.1 L392.4 269.2 L393.4 268.8 L398.0 271.1 L402.6 273.9 L406.6 270.5 L411.2 271.6 L414.7 270.5 L421.0 274.5 L425.5 269.9 L430.1 266.5 L433.6 264.7 L435.9 268.2 L439.3 267.6 L445.0 271.1 L449.6 268.8 L455.9 270.5" stroke="#34b534"/><path d="M258.8 309.2 L261.5 308.0 L264.3 307.5 L267.9 308.0 L271.6 308.6 L276.2 308.6 L280.8 308.4 L285.4 307.5 L290.9 306.8 L294.5 306.4 L297.3 307.1 L300.0 308.0 L302.8 306.6 L305.1 305.2 L306.5 301.1 L308.3 291.0 L310.1 282.8 L311.5 270.8 L312.9 249.3 L313.7 227.3 L315.6 216.9 L317.6 207.9 L319.5 200.2 L320.8 207.9 L322.7 220.8 L324.7 232.4 L326.5 246.5 L328.7 260.8 L330.8 269.4 L333.0 276.5 L335.1 280.8 L338.9 286.6 L344.0 286.6 L349.2 288.8 L354.4 286.6 L358.2 282.7 L362.1 276.9 L365.3 267.9 L367.9 260.2 L369.2 255.6 L373.7 255.6 L378.9 255.6 L382.7 258.9 L386.6 265.3 L390.0 271.1 L394.6 273.9 L399.2 276.2 L403.8 275.1 L408.9 278.5 L414.1 272.2 L418.7 271.6 L423.3 268.8 L427.8 267.6 L433.6 263.3 L438.2 265.3 L443.9 268.5 L449.6 269.9 L455.9 271.3" stroke="#8c1f8c"/>
</g>
<g clip-path="url(#cpG)" fill="none" stroke-width="2" stroke-linejoin="round">
<path d="M529.8 303.3 L530.7 303.1 L531.6 304.5 L532.5 303.4 L533.4 303.7 L534.3 304.4 L535.2 303.4 L536.1 303.6 L537.0 304.1 L537.9 303.9 L538.8 303.6 L539.7 304.2 L540.6 304.1 L541.5 304.4 L542.4 303.3 L543.3 303.7 L544.2 304.4 L545.1 304.6 L546.0 303.0 L546.9 303.9 L547.8 303.1 L548.7 303.1 L549.6 303.0 L550.5 303.1 L551.4 303.6 L552.3 303.4 L553.2 302.8 L554.1 302.3 L555.0 302.1 L555.9 301.8 L556.8 301.9 L557.7 300.9 L558.6 300.9 L559.5 300.5 L560.4 299.6 L561.3 298.8 L562.2 297.9 L563.1 297.5 L564.0 295.8 L564.9 295.5 L565.8 293.7 L566.7 292.6 L567.6 291.6 L568.5 290.5 L569.4 289.3 L570.3 288.5 L571.2 287.0 L572.1 285.3 L573.0 283.5 L573.9 281.8 L574.8 280.7 L575.7 278.3 L576.6 275.8 L577.5 274.3 L578.4 272.3 L579.3 270.8 L580.2 268.0 L581.1 266.8 L582.0 264.2 L582.9 262.1 L583.8 259.9 L584.7 258.7 L585.6 256.7 L586.5 255.2 L587.4 254.9 L588.3 254.1 L589.2 254.0 L590.1 251.2 L591.0 247.7 L591.9 247.2 L592.8 246.2 L593.7 247.8 L594.6 244.8 L595.5 240.8 L596.4 236.3 L597.3 236.9 L598.2 239.3 L599.1 240.3 L600.0 242.4 L600.9 244.9 L601.8 248.1 L602.7 249.1 L603.6 251.1 L604.5 252.9 L605.4 254.9 L606.3 256.7 L607.2 256.1 L608.1 256.3 L609.0 256.1 L609.9 256.1 L610.8 259.4 L611.7 261.4 L612.6 263.3 L613.5 263.9 L614.4 264.8 L615.3 266.4 L616.2 266.7 L617.1 267.6 L618.0 268.8 L618.9 269.1 L619.8 269.6 L620.7 270.2 L621.6 270.7 L622.5 273.2 L623.4 274.5 L624.3 275.8 L625.2 275.2 L626.1 277.0 L627.0 275.6 L627.9 276.8 L628.8 277.3 L629.7 277.8 L630.6 279.1 L631.5 279.3 L632.4 278.7 L633.3 279.4 L634.2 280.3 L635.1 281.2 L636.0 279.4 L636.9 279.4 L637.8 279.4 L638.7 278.4 L639.6 277.3 L640.5 276.6 L641.4 276.8 L642.3 277.7 L643.2 278.2 L644.1 277.7 L645.0 278.1 L645.9 278.7 L646.8 278.0 L647.7 277.5 L648.6 277.4 L649.5 276.8 L650.4 277.1 L651.3 276.7 L652.2 276.2 L653.1 274.9 L654.0 274.3 L654.9 273.9 L655.8 274.2 L656.7 274.4 L657.6 274.5 L658.5 273.9 L659.4 273.8 L660.3 274.1 L661.2 272.8 L662.1 271.9 L663.0 270.6 L663.9 269.5 L664.8 269.8 L665.7 268.5 L666.6 266.9 L667.5 268.0 L668.4 268.5 L669.3 269.0 L670.2 270.3 L671.1 268.9 L672.0 267.7 L672.9 267.6 L673.8 266.9 L674.7 267.4 L675.6 267.3 L676.5 267.4 L677.4 266.8 L678.3 266.9 L679.2 266.1 L680.1 266.3 L681.0 265.5 L681.9 265.1 L682.8 265.9 L683.7 265.5 L684.6 266.6 L685.5 266.3 L686.4 266.5 L687.3 266.5 L688.2 266.6 L689.1 266.6 L690.0 269.4 L690.9 268.5 L691.8 269.3 L692.7 268.6 L693.6 269.1 L694.5 269.3 L695.4 269.2 L696.3 269.9 L697.2 270.4 L698.1 270.1 L699.0 269.9 L699.9 270.4 L700.8 270.9 L701.7 271.5 L702.6 271.5 L703.5 271.1 L704.4 269.8 L705.3 269.9 L706.2 268.7 L707.1 268.4 L708.0 269.3 L708.9 269.5 L709.8 269.6 L710.7 268.5 L711.6 268.4 L712.5 267.5 L713.4 268.4 L714.3 268.3 L715.2 268.7 L716.1 268.4 L717.0 268.3 L717.9 269.6 L718.8 268.4 L719.7 268.2 L720.6 268.2 L721.5 268.4 L722.4 267.7 L723.3 267.7 L724.2 267.6 L725.1 268.9 L726.0 268.3 L726.9 268.7 L727.8 269.8" stroke="#ff4b33"/><path d="M529.8 302.1 L530.7 302.8 L531.6 303.9 L532.5 303.5 L533.4 304.0 L534.3 304.2 L535.2 304.3 L536.1 304.9 L537.0 304.8 L537.9 304.5 L538.8 304.4 L539.7 304.8 L540.6 305.3 L541.5 304.8 L542.4 304.8 L543.3 304.0 L544.2 305.2 L545.1 304.1 L546.0 304.1 L546.9 304.4 L547.8 304.5 L548.7 304.4 L549.6 303.9 L550.5 304.0 L551.4 303.8 L552.3 303.1 L553.2 303.5 L554.1 303.0 L555.0 303.2 L555.9 302.6 L556.8 302.8 L557.7 302.2 L558.6 301.9 L559.5 301.7 L560.4 301.0 L561.3 300.2 L562.2 300.3 L563.1 298.5 L564.0 298.1 L564.9 297.7 L565.8 296.5 L566.7 296.1 L567.6 294.0 L568.5 292.8 L569.4 291.9 L570.3 290.6 L571.2 288.5 L572.1 285.7 L573.0 284.0 L573.9 282.8 L574.8 281.3 L575.7 278.1 L576.6 275.7 L577.5 274.0 L578.4 270.6 L579.3 269.2 L580.2 266.0 L581.1 263.9 L582.0 260.3 L582.9 257.2 L583.8 252.7 L584.7 250.0 L585.6 245.9 L586.5 239.8 L587.4 237.6 L588.3 235.3 L589.2 236.0 L590.1 236.2 L591.0 236.6 L591.9 234.7 L592.8 234.0 L593.7 231.6 L594.6 228.0 L595.5 227.4 L596.4 229.4 L597.3 232.7 L598.2 235.0 L599.1 238.2 L600.0 240.8 L600.9 244.2 L601.8 247.5 L602.7 248.9 L603.6 250.9 L604.5 250.6 L605.4 251.5 L606.3 251.9 L607.2 252.7 L608.1 255.4 L609.0 260.7 L609.9 264.7 L610.8 266.1 L611.7 267.4 L612.6 268.7 L613.5 269.6 L614.4 270.0 L615.3 271.9 L616.2 273.1 L617.1 275.6 L618.0 277.9 L618.9 279.2 L619.8 280.1 L620.7 281.3 L621.6 282.4 L622.5 280.8 L623.4 281.9 L624.3 282.7 L625.2 282.9 L626.1 283.1 L627.0 283.8 L627.9 285.3 L628.8 284.2 L629.7 283.7 L630.6 284.3 L631.5 283.0 L632.4 283.2 L633.3 282.6 L634.2 282.4 L635.1 281.5 L636.0 281.1 L636.9 281.6 L637.8 280.0 L638.7 280.1 L639.6 278.8 L640.5 278.6 L641.4 278.0 L642.3 276.7 L643.2 277.6 L644.1 277.0 L645.0 277.6 L645.9 276.7 L646.8 277.5 L647.7 277.9 L648.6 276.3 L649.5 275.3 L650.4 275.2 L651.3 274.5 L652.2 274.2 L653.1 274.1 L654.0 273.8 L654.9 274.1 L655.8 273.0 L656.7 272.1 L657.6 272.1 L658.5 270.9 L659.4 271.7 L660.3 270.3 L661.2 269.9 L662.1 269.8 L663.0 270.0 L663.9 268.9 L664.8 268.0 L665.7 268.7 L666.6 266.8 L667.5 267.9 L668.4 267.2 L669.3 266.5 L670.2 267.6 L671.1 266.3 L672.0 265.4 L672.9 265.3 L673.8 265.2 L674.7 264.2 L675.6 263.6 L676.5 264.6 L677.4 264.6 L678.3 264.8 L679.2 263.8 L680.1 262.5 L681.0 262.3 L681.9 262.9 L682.8 261.7 L683.7 263.4 L684.6 263.2 L685.5 262.6 L686.4 262.7 L687.3 263.2 L688.2 261.8 L689.1 262.9 L690.0 263.6 L690.9 263.2 L691.8 264.5 L692.7 265.0 L693.6 264.9 L694.5 265.7 L695.4 265.5 L696.3 265.7 L697.2 265.1 L698.1 265.5 L699.0 264.8 L699.9 265.3 L700.8 266.0 L701.7 266.8 L702.6 267.9 L703.5 269.3 L704.4 269.3 L705.3 271.1 L706.2 270.9 L707.1 271.0 L708.0 270.5 L708.9 272.1 L709.8 270.8 L710.7 272.0 L711.6 272.8 L712.5 272.2 L713.4 271.8 L714.3 272.0 L715.2 272.2 L716.1 273.1 L717.0 273.5 L717.9 273.5 L718.8 273.7 L719.7 273.9 L720.6 273.1 L721.5 273.4 L722.4 274.4 L723.3 272.7 L724.2 273.6 L725.1 272.5 L726.0 272.5 L726.9 272.5 L727.8 271.7" stroke="#34b534"/><path d="M529.8 301.9 L530.7 302.6 L531.6 302.5 L532.5 302.6 L533.4 302.1 L534.3 302.4 L535.2 302.7 L536.1 302.9 L537.0 303.3 L537.9 302.2 L538.8 303.5 L539.7 302.7 L540.6 302.7 L541.5 302.3 L542.4 302.8 L543.3 302.7 L544.2 302.2 L545.1 302.7 L546.0 302.9 L546.9 302.5 L547.8 303.0 L548.7 302.1 L549.6 302.9 L550.5 302.3 L551.4 302.5 L552.3 301.4 L553.2 302.2 L554.1 302.0 L555.0 302.4 L555.9 301.3 L556.8 302.4 L557.7 301.2 L558.6 302.1 L559.5 301.6 L560.4 300.8 L561.3 302.0 L562.2 300.3 L563.1 300.5 L564.0 300.1 L564.9 299.6 L565.8 298.9 L566.7 298.5 L567.6 297.3 L568.5 296.1 L569.4 294.6 L570.3 293.8 L571.2 292.9 L572.1 290.5 L573.0 289.7 L573.9 286.2 L574.8 284.1 L575.7 280.9 L576.6 278.5 L577.5 273.5 L578.4 271.1 L579.3 268.7 L580.2 264.8 L581.1 259.4 L582.0 256.1 L582.9 252.3 L583.8 244.8 L584.7 236.1 L585.6 229.3 L586.5 223.1 L587.4 219.2 L588.3 216.4 L589.2 215.9 L590.1 213.7 L591.0 212.2 L591.9 212.1 L592.8 212.0 L593.7 212.1 L594.6 216.1 L595.5 219.4 L596.4 224.1 L597.3 226.9 L598.2 231.3 L599.1 233.6 L600.0 237.7 L600.9 241.2 L601.8 243.9 L602.7 247.7 L603.6 251.2 L604.5 255.2 L605.4 260.0 L606.3 264.0 L607.2 267.7 L608.1 270.3 L609.0 271.4 L609.9 273.9 L610.8 276.6 L611.7 279.1 L612.6 281.9 L613.5 283.2 L614.4 283.1 L615.3 283.4 L616.2 285.3 L617.1 285.9 L618.0 285.9 L618.9 287.1 L619.8 286.9 L620.7 286.7 L621.6 288.2 L622.5 288.2 L623.4 288.0 L624.3 288.6 L625.2 288.3 L626.1 287.2 L627.0 286.8 L627.9 286.1 L628.8 286.7 L629.7 286.2 L630.6 286.2 L631.5 285.8 L632.4 285.2 L633.3 285.0 L634.2 284.2 L635.1 285.0 L636.0 283.8 L636.9 283.8 L637.8 282.8 L638.7 282.6 L639.6 282.3 L640.5 281.2 L641.4 280.4 L642.3 281.2 L643.2 279.5 L644.1 279.2 L645.0 278.3 L645.9 277.4 L646.8 277.8 L647.7 276.8 L648.6 276.1 L649.5 274.4 L650.4 274.6 L651.3 273.8 L652.2 272.5 L653.1 271.2 L654.0 271.0 L654.9 270.1 L655.8 269.8 L656.7 269.6 L657.6 269.2 L658.5 266.6 L659.4 265.9 L660.3 264.0 L661.2 262.4 L662.1 263.1 L663.0 261.9 L663.9 262.1 L664.8 259.8 L665.7 258.8 L666.6 257.5 L667.5 257.3 L668.4 256.6 L669.3 256.0 L670.2 255.5 L671.1 256.9 L672.0 256.7 L672.9 257.6 L673.8 258.7 L674.7 256.6 L675.6 256.0 L676.5 256.0 L677.4 255.7 L678.3 254.9 L679.2 256.6 L680.1 258.7 L681.0 258.8 L681.9 260.0 L682.8 259.8 L683.7 261.6 L684.6 262.1 L685.5 263.8 L686.4 263.9 L687.3 264.1 L688.2 265.1 L689.1 265.9 L690.0 266.9 L690.9 267.9 L691.8 270.5 L692.7 270.5 L693.6 269.5 L694.5 269.4 L695.4 270.1 L696.3 271.6 L697.2 272.6 L698.1 272.3 L699.0 273.1 L699.9 273.5 L700.8 274.7 L701.7 276.0 L702.6 277.3 L703.5 277.3 L704.4 276.8 L705.3 277.4 L706.2 277.3 L707.1 276.7 L708.0 277.0 L708.9 277.1 L709.8 277.2 L710.7 276.6 L711.6 276.5 L712.5 276.2 L713.4 275.4 L714.3 276.4 L715.2 276.5 L716.1 277.2 L717.0 276.6 L717.9 277.1 L718.8 277.3 L719.7 275.9 L720.6 276.2 L721.5 275.6 L722.4 275.3 L723.3 275.1 L724.2 273.9 L725.1 274.6 L726.0 274.3 L726.9 274.4 L727.8 274.2" stroke="#8c1f8c"/>
</g>
<g stroke-width="2">
<path d="M387 204.7h26.8" stroke="#ff4b33"/><path d="M387 217.9h26.8" stroke="#34b534"/><path d="M387 230.8h26.8" stroke="#8c1f8c"/>
<path d="M660.8 202.6h26.8" stroke="#ff4b33"/><path d="M660.8 215.8h26.8" stroke="#34b534"/><path d="M660.8 228.4h26.8" stroke="#8c1f8c"/>
</g>
<path d="M262.0 20.5H297.0" stroke="#222" stroke-width="0.65"/><path d="M256.6 20.5l6 -2.5v5z" fill="#000"/><path d="M302.4 20.5l-6 -2.5v5z" fill="#000"/><path d="M307.0 20.5H358.4" stroke="#222" stroke-width="0.65"/><path d="M301.6 20.5l6 -2.5v5z" fill="#000"/><path d="M363.79999999999995 20.5l-6 -2.5v5z" fill="#000"/><path d="M368.4 20.5H451.5" stroke="#222" stroke-width="0.65"/><path d="M363.0 20.5l6 -2.5v5z" fill="#000"/><path d="M456.9 20.5l-6 -2.5v5z" fill="#000"/>
<g style="font-family:'Liberation Serif',serif;font-size:13px" fill="#000" text-anchor="middle"><text x="279.9" y="12">NC12</text><text x="332.9" y="12">NC13</text><text x="410" y="12">NC14</text></g>
<text x="458.3" y="47.5" style="font-family:'Liberation Serif',serif;font-size:11.5px" fill="#000"><tspan font-style="italic">ρ</tspan><tspan font-size="8.3" dy="0.8">{14}</tspan></text>
<text x="458.3" y="96.3" style="font-family:'Liberation Serif',serif;font-size:11.5px" fill="#000"><tspan font-style="italic">ρ</tspan><tspan font-size="8.3" dy="0.8">{14}</tspan><tspan dy="0.2" font-size="12.2">/2</tspan></text>
<text x="458.3" y="120.2" style="font-family:'Liberation Serif',serif;font-size:11.5px" fill="#000"><tspan font-style="italic">ρ</tspan><tspan font-size="8.3" dy="0.8">{14}</tspan><tspan dy="0.2" font-size="12.2">/4</tspan></text>
<text x="418.3" y="208.5" style="font-family:'Liberation Serif',serif;font-size:11px" fill="#000"><tspan font-style="italic">ρ</tspan><tspan font-size="7.9" dy="0.8">{14}</tspan><tspan dy="0.2" font-size="11.7">/4</tspan></text>
<text x="418.3" y="221.7" style="font-family:'Liberation Serif',serif;font-size:11px" fill="#000"><tspan font-style="italic">ρ</tspan><tspan font-size="7.9" dy="0.8">{14}</tspan><tspan dy="0.2" font-size="11.7">/2</tspan></text>
<text x="418.3" y="234.6" style="font-family:'Liberation Serif',serif;font-size:11px" fill="#000"><tspan font-style="italic">ρ</tspan><tspan font-size="7.9" dy="0.8">{14}</tspan></text>
<text x="691.6" y="206.4" style="font-family:'Liberation Serif',serif;font-size:11px" fill="#000"><tspan font-style="italic">ρ</tspan><tspan font-size="7.9" dy="0.8">{14}</tspan><tspan dy="0.2" font-size="11.7">/4</tspan></text>
<text x="691.6" y="219.6" style="font-family:'Liberation Serif',serif;font-size:11px" fill="#000"><tspan font-style="italic">ρ</tspan><tspan font-size="7.9" dy="0.8">{14}</tspan><tspan dy="0.2" font-size="11.7">/2</tspan></text>
<text x="691.6" y="232.2" style="font-family:'Liberation Serif',serif;font-size:11px" fill="#000"><tspan font-style="italic">ρ</tspan><tspan font-size="7.9" dy="0.8">{14}</tspan></text>
<g style="font-family:'Liberation Serif',serif;font-size:14px" fill="#000">
<text y="177.8"><tspan x="338.0" font-style="italic">t</tspan><tspan x="347.9" textLength="28.2" lengthAdjust="spacingAndGlyphs">[min]</tspan></text>
<text y="177.8"><tspan x="610.2" font-style="italic">t</tspan><tspan x="620.4" textLength="28.4" lengthAdjust="spacingAndGlyphs">[min]</tspan></text>
<text transform="translate(225.2,0) rotate(-90)"><tspan x="-93.3" y="0.0" font-style="italic" textLength="13.2" lengthAdjust="spacingAndGlyphs">ρσ</tspan><tspan x="-79.2" y="-6.0" font-size="10">2</tspan></text>
<text transform="translate(508.6,0) rotate(-90)"><tspan x="-93.8" y="0.0" font-style="italic" textLength="20.8" lengthAdjust="spacingAndGlyphs">a/σ</tspan></text>
<text transform="translate(234.8,0) rotate(-90)"><tspan x="-271.0" y="0.0" font-size="13" font-style="italic">g</tspan><tspan x="-263.9" y="-4.6" font-size="11.5" textLength="15.3" lengthAdjust="spacingAndGlyphs">exp</tspan><tspan x="-248.6" y="0.3" font-size="15.5">(</tspan><tspan x="-242.0" y="0.0" font-style="italic">r</tspan><tspan x="-233.4" y="0.3" font-size="15.5">)</tspan></text>
<text transform="translate(507.8,0) rotate(-90)"><tspan x="-272.3" y="0.0" font-style="italic">S</tspan><tspan x="-264.6" y="-4.8" font-size="11.5" textLength="15.0" lengthAdjust="spacingAndGlyphs">exp</tspan><tspan x="-249.0" y="0.3" font-size="15.5">(</tspan><tspan x="-243.6" y="0.0" font-style="italic">k</tspan><tspan x="-232.0" y="0.3" font-size="15.5">)</tspan></text>
<text><tspan x="311.8" y="342.0" font-size="15.5">(</tspan><tspan x="315.6" y="342.0" font-style="italic">r</tspan><tspan x="322.9" y="342.0" font-style="italic">ρ</tspan><tspan x="330.4" y="336.0" font-size="10" textLength="13.3" lengthAdjust="spacingAndGlyphs">1/2</tspan><tspan x="331.1" y="346.3" font-size="10" textLength="14.0" lengthAdjust="spacingAndGlyphs">{<tspan font-style="italic">n</tspan>}</tspan><tspan x="345.6" y="342.0" font-size="15.5">)</tspan><tspan x="350.0" y="344.0" font-size="15.5">/</tspan><tspan x="358.0" y="342.0" font-size="15.5">(</tspan><tspan x="362.2" y="342.0" font-style="italic">σ</tspan><tspan x="370.3" y="342.0" font-style="italic">ρ</tspan><tspan x="378.0" y="336.0" font-size="10" textLength="13.0" lengthAdjust="spacingAndGlyphs">1/2</tspan><tspan x="378.3" y="346.3" font-size="10" textLength="17.6" lengthAdjust="spacingAndGlyphs">{14}</tspan><tspan x="397.7" y="342.0" font-size="15.5">)</tspan></text>
<text><tspan x="583.2" y="342.0" font-size="15.5">(</tspan><tspan x="587.4" y="342.0" font-style="italic">σ</tspan><tspan x="595.5" y="342.0" font-style="italic">ρ</tspan><tspan x="603.2" y="336.0" font-size="10" textLength="11.2" lengthAdjust="spacingAndGlyphs">1/2</tspan><tspan x="603.8" y="346.3" font-size="10" textLength="15.9" lengthAdjust="spacingAndGlyphs">{14}</tspan><tspan x="623.0" y="342.0" font-size="15.5">)</tspan><tspan x="627.7" y="342.0" font-size="15.5">(</tspan><tspan x="632.7" y="342.0" font-style="italic">k</tspan><tspan x="639.2" y="344.0" font-size="15.5">/</tspan><tspan x="647.0" y="342.0" font-style="italic">ρ</tspan><tspan x="654.6" y="336.0" font-size="10" textLength="12.5" lengthAdjust="spacingAndGlyphs">1/2</tspan><tspan x="655.3" y="346.3" font-size="10" textLength="13.1" lengthAdjust="spacingAndGlyphs">{<tspan font-style="italic">n</tspan>}</tspan><tspan x="669.6" y="342.0" font-size="15.5">)</tspan></text>
</g>
<g style="font-family:'Liberation Sans',sans-serif;font-size:15px;font-weight:bold" fill="#000">
<text x="213" y="13.4">D</text><text x="493.6" y="13.4">E</text><text x="214" y="185.4">F</text><text x="495" y="189">G</text>
</g>
<g style="font-family:'Liberation Sans',sans-serif;font-size:15px;font-weight:bold" fill="#fff">
<text x="1.5" y="13.4">A</text><text x="1.5" y="132.8">B</text><text x="1.5" y="253">C</text>
</g>
</svg></body></html>
